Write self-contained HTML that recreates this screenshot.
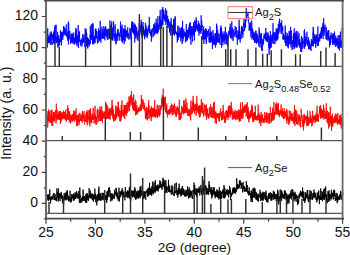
<!DOCTYPE html>
<html><head><meta charset="utf-8"><style>
html,body{margin:0;padding:0;background:#fff;}
body{width:350px;height:255px;overflow:hidden;font-family:"Liberation Sans",sans-serif;}
svg{display:block;}
</style></head><body>
<svg width="350" height="255" viewBox="0 0 350 255" xmlns="http://www.w3.org/2000/svg">
<path d="M46 66.45H342.6M46 140.6H342.6M46 213.45H342.6" stroke="#555" stroke-width="1.25"/>
<polyline fill="none" stroke="#0000ff" stroke-width="0.8" stroke-linejoin="miter" points="46.1,42.6 46.2,35.7 46.4,36.2 46.5,39.1 46.7,39.8 46.8,42.0 47.0,38.4 47.1,41.4 47.3,47.6 47.4,37.8 47.6,36.0 47.7,28.4 47.9,40.6 48.0,39.3 48.2,43.3 48.3,36.3 48.5,38.0 48.6,36.8 48.8,43.0 48.9,43.0 49.1,40.5 49.2,34.8 49.4,42.7 49.5,38.5 49.7,42.3 49.8,38.0 50.0,40.2 50.1,32.7 50.3,35.6 50.4,45.0 50.6,35.9 50.7,40.0 50.9,39.2 51.0,39.0 51.2,31.3 51.3,38.4 51.5,32.9 51.6,43.2 51.8,42.9 51.9,44.0 52.1,42.3 52.2,45.0 52.4,34.2 52.5,38.7 52.7,36.9 52.8,38.3 53.0,37.5 53.1,40.7 53.3,34.3 53.4,37.3 53.6,31.8 53.7,43.0 53.9,38.4 54.0,43.8 54.2,38.2 54.3,30.1 54.5,43.7 54.6,38.3 54.8,27.0 54.9,36.6 55.1,25.0 55.2,34.8 55.4,40.7 55.5,36.4 55.7,42.2 55.8,41.4 56.0,35.6 56.1,24.7 56.3,42.5 56.4,43.0 56.6,36.8 56.7,37.9 56.9,42.3 57.0,40.7 57.2,37.9 57.3,38.1 57.5,40.1 57.6,31.8 57.8,47.5 57.9,35.8 58.1,41.7 58.2,38.3 58.4,42.3 58.5,39.2 58.7,35.1 58.8,46.5 59.0,38.2 59.1,41.3 59.3,42.8 59.4,40.0 59.6,40.1 59.7,45.4 59.9,38.3 60.0,38.2 60.2,41.8 60.3,33.7 60.5,30.3 60.6,38.4 60.8,32.8 60.9,40.2 61.1,42.1 61.2,36.2 61.4,32.5 61.5,45.3 61.7,32.7 61.8,31.9 62.0,34.7 62.1,31.7 62.3,37.1 62.4,36.7 62.6,33.7 62.7,40.0 62.9,36.5 63.0,37.2 63.2,33.7 63.3,33.2 63.5,26.1 63.6,30.0 63.8,34.0 63.9,35.5 64.1,26.7 64.2,27.9 64.4,33.1 64.5,28.3 64.7,34.7 64.8,32.0 65.0,28.3 65.1,30.9 65.3,30.0 65.4,29.8 65.6,29.9 65.7,31.9 65.9,35.8 66.0,31.4 66.2,27.0 66.3,24.4 66.5,35.0 66.6,33.1 66.8,36.8 66.9,35.7 67.1,31.7 67.2,31.7 67.4,38.5 67.5,33.8 67.7,40.0 67.8,40.8 68.0,32.0 68.1,28.5 68.3,21.6 68.4,44.6 68.6,41.6 68.7,22.6 68.9,39.6 69.0,34.5 69.2,32.6 69.3,35.5 69.5,38.1 69.6,38.4 69.8,30.8 69.9,31.2 70.1,36.9 70.2,37.5 70.4,37.3 70.5,44.0 70.7,42.5 70.8,37.7 71.0,35.2 71.1,34.7 71.3,42.8 71.4,42.9 71.6,33.8 71.7,33.5 71.9,38.6 72.0,41.5 72.2,34.1 72.3,37.3 72.5,39.2 72.6,43.4 72.8,42.0 72.9,34.1 73.1,38.7 73.2,32.5 73.4,42.3 73.5,37.1 73.7,41.7 73.8,40.1 74.0,39.4 74.1,44.6 74.3,43.1 74.4,38.6 74.6,43.8 74.7,37.6 74.9,44.0 75.0,44.0 75.2,36.4 75.3,32.3 75.5,42.1 75.6,39.2 75.8,41.6 75.9,27.9 76.1,40.4 76.2,29.3 76.4,38.3 76.5,44.4 76.7,34.9 76.8,36.1 77.0,36.0 77.1,46.4 77.3,43.3 77.4,38.1 77.6,40.4 77.7,35.5 77.9,42.6 78.0,42.4 78.2,25.1 78.3,37.2 78.5,45.2 78.6,48.0 78.8,38.8 78.9,30.5 79.1,38.5 79.2,40.7 79.4,40.1 79.5,31.9 79.7,41.9 79.8,40.9 80.0,40.3 80.1,42.2 80.3,42.8 80.4,42.9 80.6,45.8 80.7,40.4 80.9,40.1 81.0,42.2 81.2,42.3 81.3,38.5 81.5,40.6 81.6,40.8 81.8,46.7 81.9,45.9 82.1,41.1 82.2,40.1 82.4,44.2 82.5,37.3 82.7,34.2 82.8,37.4 83.0,42.9 83.1,41.1 83.3,36.8 83.4,40.1 83.6,42.3 83.7,39.0 83.9,39.8 84.0,34.4 84.2,40.7 84.3,41.3 84.5,39.0 84.6,39.2 84.8,40.2 84.9,47.1 85.1,41.0 85.2,28.5 85.4,41.0 85.5,38.5 85.7,45.9 85.8,31.6 86.0,43.1 86.1,28.8 86.3,42.5 86.4,35.8 86.6,36.7 86.7,32.9 86.9,46.5 87.0,37.4 87.2,40.4 87.3,46.8 87.5,37.2 87.6,42.1 87.8,48.5 87.9,41.5 88.1,42.8 88.2,41.8 88.4,45.1 88.5,38.3 88.7,44.2 88.8,43.3 89.0,40.5 89.1,46.6 89.3,45.1 89.4,44.0 89.6,40.4 89.7,42.1 89.9,38.9 90.0,35.6 90.2,37.0 90.3,25.9 90.5,44.1 90.6,39.6 90.8,36.9 90.9,33.7 91.1,39.8 91.2,37.6 91.4,24.2 91.5,35.8 91.7,32.3 91.8,39.5 92.0,37.5 92.1,37.6 92.3,32.6 92.4,37.7 92.6,44.3 92.7,23.1 92.9,41.8 93.0,23.7 93.2,43.3 93.3,39.4 93.5,40.3 93.6,37.4 93.8,44.3 93.9,35.6 94.1,37.7 94.2,39.1 94.4,42.5 94.5,36.2 94.7,41.1 94.8,40.1 95.0,39.3 95.1,43.0 95.3,28.7 95.4,37.4 95.6,32.4 95.7,39.2 95.9,32.0 96.0,28.8 96.2,36.7 96.3,36.3 96.5,31.2 96.6,38.4 96.8,34.3 96.9,31.2 97.1,34.8 97.2,37.6 97.4,43.5 97.5,39.9 97.7,38.1 97.8,36.6 98.0,37.2 98.1,36.3 98.3,42.6 98.4,29.5 98.6,28.2 98.7,37.6 98.9,30.6 99.0,32.4 99.2,32.9 99.3,39.6 99.5,30.8 99.6,41.0 99.8,34.7 99.9,36.2 100.1,39.9 100.2,20.9 100.4,35.2 100.5,39.7 100.7,30.4 100.8,42.6 101.0,37.2 101.1,35.7 101.3,34.7 101.4,35.6 101.6,36.2 101.7,35.8 101.9,26.7 102.0,38.9 102.2,32.5 102.3,38.4 102.5,35.7 102.6,33.0 102.8,28.9 102.9,37.1 103.1,39.0 103.2,34.1 103.4,34.4 103.5,33.4 103.7,37.7 103.8,26.1 104.0,38.3 104.1,34.6 104.3,30.5 104.4,28.4 104.6,34.8 104.7,35.6 104.9,40.3 105.0,31.7 105.2,34.9 105.3,27.7 105.5,26.6 105.6,31.3 105.8,26.8 105.9,36.5 106.1,33.3 106.2,35.3 106.4,32.7 106.5,30.7 106.7,31.9 106.8,29.7 107.0,37.4 107.1,29.2 107.3,39.1 107.4,37.8 107.6,29.8 107.7,38.5 107.9,40.0 108.0,36.2 108.2,33.3 108.3,30.7 108.5,28.8 108.6,29.5 108.8,34.5 108.9,38.2 109.1,37.5 109.2,28.6 109.4,39.0 109.5,38.2 109.7,35.8 109.8,36.4 110.0,20.4 110.1,35.9 110.3,33.9 110.4,32.2 110.6,42.0 110.7,37.4 110.9,39.7 111.0,31.6 111.2,38.0 111.3,24.0 111.5,35.1 111.6,28.5 111.8,21.4 111.9,32.1 112.1,40.1 112.2,33.5 112.4,40.0 112.5,27.8 112.7,32.1 112.8,40.6 113.0,35.8 113.1,34.1 113.3,35.9 113.4,32.4 113.6,21.4 113.7,32.7 113.9,26.1 114.0,36.2 114.2,38.4 114.3,37.2 114.5,35.7 114.6,33.4 114.8,34.2 114.9,41.0 115.1,37.2 115.2,24.2 115.4,30.2 115.5,34.9 115.7,41.5 115.8,43.2 116.0,44.3 116.1,33.2 116.3,38.8 116.4,43.0 116.6,34.8 116.7,39.5 116.9,35.2 117.0,35.7 117.2,37.0 117.3,32.9 117.5,29.3 117.6,31.7 117.8,40.9 117.9,29.0 118.1,30.1 118.2,32.5 118.4,35.7 118.5,36.3 118.7,31.8 118.8,33.3 119.0,33.3 119.1,34.9 119.3,35.7 119.4,34.4 119.6,33.4 119.7,40.5 119.9,36.4 120.0,36.9 120.2,36.9 120.3,32.6 120.5,21.6 120.6,33.1 120.8,33.0 120.9,29.6 121.1,36.8 121.2,36.3 121.4,26.6 121.5,41.3 121.7,39.1 121.8,33.4 122.0,41.1 122.1,24.6 122.3,33.3 122.4,42.7 122.6,39.9 122.7,36.2 122.9,36.9 123.0,39.1 123.2,33.3 123.3,28.6 123.5,39.8 123.6,29.6 123.8,30.6 123.9,37.1 124.1,44.1 124.2,38.1 124.4,39.6 124.5,28.9 124.7,36.4 124.8,40.6 125.0,25.2 125.1,41.6 125.3,37.8 125.4,31.9 125.6,36.7 125.7,29.4 125.9,34.8 126.0,35.3 126.2,34.5 126.3,30.9 126.5,36.5 126.6,30.5 126.8,35.2 126.9,33.3 127.1,33.7 127.2,38.3 127.4,33.1 127.5,32.4 127.7,27.3 127.8,34.7 128.0,36.4 128.1,32.7 128.3,33.7 128.4,35.9 128.6,34.6 128.7,38.9 128.9,39.6 129.0,36.9 129.2,38.3 129.3,37.0 129.5,36.0 129.6,34.8 129.8,30.6 129.9,27.9 130.1,33.3 130.2,36.1 130.4,34.0 130.5,32.5 130.7,37.4 130.8,29.8 131.0,32.4 131.1,39.4 131.3,28.2 131.4,31.1 131.6,21.7 131.7,28.4 131.9,29.6 132.0,30.1 132.2,26.1 132.3,24.8 132.5,32.5 132.6,21.5 132.8,29.0 132.9,32.0 133.1,25.4 133.2,32.4 133.4,29.1 133.5,32.2 133.7,29.0 133.8,34.6 134.0,22.7 134.1,32.6 134.3,24.6 134.4,29.5 134.6,33.0 134.7,42.6 134.9,36.8 135.0,30.0 135.2,32.6 135.3,34.1 135.5,24.6 135.6,27.0 135.8,38.4 135.9,33.8 136.1,28.6 136.2,36.4 136.4,30.9 136.5,33.7 136.7,26.7 136.8,32.0 137.0,35.7 137.1,37.4 137.3,39.6 137.4,36.1 137.6,36.1 137.7,31.4 137.9,34.8 138.0,40.8 138.2,33.2 138.3,33.9 138.5,35.9 138.6,30.2 138.8,29.5 138.9,33.5 139.1,33.8 139.2,23.1 139.4,27.5 139.5,35.9 139.7,34.2 139.8,29.2 140.0,28.5 140.1,32.4 140.3,29.0 140.4,25.2 140.6,28.0 140.7,27.8 140.9,30.9 141.0,26.4 141.2,19.8 141.3,34.9 141.5,22.1 141.6,30.1 141.8,37.5 141.9,32.0 142.1,29.4 142.2,25.4 142.4,31.9 142.5,26.7 142.7,30.2 142.8,28.7 143.0,22.0 143.1,31.9 143.3,32.1 143.4,26.6 143.6,34.7 143.7,30.3 143.9,30.7 144.0,33.2 144.2,36.6 144.3,34.3 144.5,30.9 144.6,39.3 144.8,30.7 144.9,34.2 145.1,29.1 145.2,32.9 145.4,22.8 145.5,36.5 145.7,32.0 145.8,35.4 146.0,25.3 146.1,35.3 146.3,35.5 146.4,33.3 146.6,33.2 146.7,29.2 146.9,27.5 147.0,38.1 147.2,35.3 147.3,29.5 147.5,36.6 147.6,30.4 147.8,34.9 147.9,29.6 148.1,29.7 148.2,31.4 148.4,27.1 148.5,29.3 148.7,29.7 148.8,28.6 149.0,25.1 149.1,27.4 149.3,16.8 149.4,33.1 149.6,25.2 149.7,31.2 149.9,29.1 150.0,30.3 150.2,32.3 150.3,33.1 150.5,32.0 150.6,33.3 150.8,35.8 150.9,32.4 151.1,34.4 151.2,30.6 151.4,41.6 151.5,29.6 151.7,33.0 151.8,38.4 152.0,32.0 152.1,31.7 152.3,29.1 152.4,29.5 152.6,28.3 152.7,32.0 152.9,31.7 153.0,34.5 153.2,36.4 153.3,36.8 153.5,25.7 153.6,30.4 153.8,29.8 153.9,24.1 154.1,29.1 154.2,33.6 154.4,30.2 154.5,26.1 154.7,35.3 154.8,22.7 155.0,31.1 155.1,25.1 155.3,27.9 155.4,27.2 155.6,33.3 155.7,29.6 155.9,33.2 156.0,30.2 156.2,18.8 156.3,32.2 156.5,28.6 156.6,27.4 156.8,29.9 156.9,22.8 157.1,33.9 157.2,26.6 157.4,33.1 157.5,25.3 157.7,32.0 157.8,16.3 158.0,21.1 158.1,28.4 158.3,32.4 158.4,29.8 158.6,24.5 158.7,25.0 158.9,25.3 159.0,30.0 159.2,26.7 159.3,20.2 159.5,20.4 159.6,15.9 159.8,27.3 159.9,22.5 160.1,21.2 160.2,10.0 160.4,29.5 160.5,23.1 160.7,29.7 160.8,20.1 161.0,26.7 161.1,19.7 161.3,19.5 161.4,28.4 161.6,26.1 161.7,22.5 161.9,26.3 162.0,9.0 162.2,21.6 162.3,24.2 162.5,20.6 162.6,12.2 162.8,7.0 162.9,25.3 163.1,20.1 163.2,18.1 163.4,15.9 163.5,9.7 163.7,19.2 163.8,10.2 164.0,19.0 164.1,14.1 164.3,17.0 164.4,15.2 164.6,18.6 164.7,17.9 164.9,19.1 165.0,21.4 165.2,16.6 165.3,21.7 165.5,14.2 165.6,8.3 165.8,15.1 165.9,25.0 166.1,20.3 166.2,19.0 166.4,15.2 166.5,20.9 166.7,10.5 166.8,14.4 167.0,22.6 167.1,18.7 167.3,20.6 167.4,27.1 167.6,18.7 167.7,15.8 167.9,24.0 168.0,21.8 168.2,27.6 168.3,22.5 168.5,19.1 168.6,24.4 168.8,24.5 168.9,20.8 169.1,24.5 169.2,27.9 169.4,30.4 169.5,32.4 169.7,23.6 169.8,24.2 170.0,28.5 170.1,29.5 170.3,21.7 170.4,35.4 170.6,28.0 170.7,25.7 170.9,26.8 171.0,27.3 171.2,17.9 171.3,26.6 171.5,24.0 171.6,30.0 171.8,31.4 171.9,29.7 172.1,32.8 172.2,35.6 172.4,24.8 172.5,35.7 172.7,29.7 172.8,25.7 173.0,30.7 173.1,32.8 173.3,34.3 173.4,31.3 173.6,19.3 173.7,34.3 173.9,19.3 174.0,34.2 174.2,26.5 174.3,26.4 174.5,25.2 174.6,35.5 174.8,17.6 174.9,30.0 175.1,26.0 175.2,16.2 175.4,33.3 175.5,32.6 175.7,30.5 175.8,31.8 176.0,33.8 176.1,31.9 176.3,33.8 176.4,33.4 176.6,35.2 176.7,34.5 176.9,32.8 177.0,34.5 177.2,39.0 177.3,42.5 177.5,31.6 177.6,37.9 177.8,25.4 177.9,29.2 178.1,37.5 178.2,40.1 178.4,33.0 178.5,37.1 178.7,35.5 178.8,36.8 179.0,26.8 179.1,37.2 179.3,34.2 179.4,32.3 179.6,34.5 179.7,34.7 179.9,32.4 180.0,33.1 180.2,28.1 180.3,37.5 180.5,36.5 180.6,29.3 180.8,41.4 180.9,37.3 181.1,37.7 181.2,35.0 181.4,36.0 181.5,26.9 181.7,38.3 181.8,30.7 182.0,29.0 182.1,44.1 182.3,36.4 182.4,34.2 182.6,20.9 182.7,36.6 182.9,41.5 183.0,34.2 183.2,31.1 183.3,32.2 183.5,38.7 183.6,33.7 183.8,28.8 183.9,34.8 184.1,33.9 184.2,36.5 184.4,31.6 184.5,35.1 184.7,33.9 184.8,33.1 185.0,36.6 185.1,32.9 185.3,32.2 185.4,42.2 185.6,33.0 185.7,38.6 185.9,33.8 186.0,38.3 186.2,31.0 186.3,24.0 186.5,35.7 186.6,41.2 186.8,33.0 186.9,30.0 187.1,35.6 187.2,30.0 187.4,38.9 187.5,40.2 187.7,34.3 187.8,38.6 188.0,29.4 188.1,37.1 188.3,36.4 188.4,29.5 188.6,31.5 188.7,36.9 188.9,27.4 189.0,35.2 189.2,29.8 189.3,24.4 189.5,33.5 189.6,31.8 189.8,34.2 189.9,22.8 190.1,39.2 190.2,22.4 190.4,22.2 190.5,34.1 190.7,35.6 190.8,36.8 191.0,44.7 191.1,31.9 191.3,34.1 191.4,26.2 191.6,33.6 191.7,36.5 191.9,31.1 192.0,31.2 192.2,29.0 192.3,37.8 192.5,38.2 192.6,41.7 192.8,26.1 192.9,31.5 193.1,34.2 193.2,35.0 193.4,30.5 193.5,27.9 193.7,22.2 193.8,35.4 194.0,25.6 194.1,34.8 194.3,29.7 194.4,40.5 194.6,29.8 194.7,20.4 194.9,27.0 195.0,30.1 195.2,29.0 195.3,21.4 195.5,21.4 195.6,31.9 195.8,28.3 195.9,26.5 196.1,22.1 196.2,17.3 196.4,29.0 196.5,23.5 196.7,20.1 196.8,27.9 197.0,27.8 197.1,26.3 197.3,30.9 197.4,28.6 197.6,26.1 197.7,24.6 197.9,30.1 198.0,24.9 198.2,31.6 198.3,27.2 198.5,20.9 198.6,26.7 198.8,28.1 198.9,35.7 199.1,24.9 199.2,28.7 199.4,23.4 199.5,32.9 199.7,31.9 199.8,25.8 200.0,27.9 200.1,29.2 200.3,29.2 200.4,32.3 200.6,27.1 200.7,25.7 200.9,27.7 201.0,34.0 201.2,15.3 201.3,30.5 201.5,30.6 201.6,26.2 201.8,20.6 201.9,27.2 202.1,26.6 202.2,24.9 202.4,30.9 202.5,32.6 202.7,39.6 202.8,32.8 203.0,34.5 203.1,34.8 203.3,38.1 203.4,39.1 203.6,26.5 203.7,34.8 203.9,43.9 204.0,29.4 204.2,33.8 204.3,39.7 204.5,32.0 204.6,35.8 204.8,30.4 204.9,37.4 205.1,36.6 205.2,37.1 205.4,38.4 205.5,30.5 205.7,28.3 205.8,39.5 206.0,36.4 206.1,39.9 206.3,43.9 206.4,29.0 206.6,41.9 206.7,32.0 206.9,34.3 207.0,34.5 207.2,37.3 207.3,35.5 207.5,31.0 207.6,33.4 207.8,34.4 207.9,33.4 208.1,35.1 208.2,35.4 208.4,29.1 208.5,33.4 208.7,34.8 208.8,40.1 209.0,40.4 209.1,42.2 209.3,37.8 209.4,33.2 209.6,34.5 209.7,42.8 209.9,39.6 210.0,26.4 210.2,38.0 210.3,40.3 210.5,42.7 210.6,40.2 210.8,31.2 210.9,35.9 211.1,41.0 211.2,32.4 211.4,37.6 211.5,42.1 211.7,32.3 211.8,40.9 212.0,39.2 212.1,37.8 212.3,43.5 212.4,49.0 212.6,37.4 212.7,36.1 212.9,40.8 213.0,30.2 213.2,41.1 213.3,44.7 213.5,40.7 213.6,43.7 213.8,35.1 213.9,44.4 214.1,41.1 214.2,40.3 214.4,39.5 214.5,41.3 214.7,38.5 214.8,44.7 215.0,33.3 215.1,40.6 215.3,40.4 215.4,47.5 215.6,36.6 215.7,33.2 215.9,39.7 216.0,38.8 216.2,33.5 216.3,45.0 216.5,43.5 216.6,23.7 216.8,40.1 216.9,25.7 217.1,42.8 217.2,38.5 217.4,34.1 217.5,36.6 217.7,30.3 217.8,41.9 218.0,33.1 218.1,40.7 218.3,37.8 218.4,37.5 218.6,40.0 218.7,41.1 218.9,42.9 219.0,42.2 219.2,33.8 219.3,41.7 219.5,40.3 219.6,38.6 219.8,41.1 219.9,42.0 220.1,44.8 220.2,36.2 220.4,28.0 220.5,37.5 220.7,33.1 220.8,25.7 221.0,25.5 221.1,39.4 221.3,33.6 221.4,27.6 221.6,47.5 221.7,37.1 221.9,39.8 222.0,31.4 222.2,36.3 222.3,40.2 222.5,36.6 222.6,34.4 222.8,45.2 222.9,35.9 223.1,38.9 223.2,40.8 223.4,42.1 223.5,41.4 223.7,33.7 223.8,39.3 224.0,33.5 224.1,31.5 224.3,38.4 224.4,40.7 224.6,35.0 224.7,35.3 224.9,44.3 225.0,35.2 225.2,33.5 225.3,26.8 225.5,27.0 225.6,38.0 225.8,39.5 225.9,36.0 226.1,34.5 226.2,43.5 226.4,34.3 226.5,40.7 226.7,32.5 226.8,44.4 227.0,41.3 227.1,34.5 227.3,41.5 227.4,36.1 227.6,46.0 227.7,42.3 227.9,35.9 228.0,38.9 228.2,39.5 228.3,36.2 228.5,34.0 228.6,31.0 228.8,34.7 228.9,36.6 229.1,35.9 229.2,33.9 229.4,33.5 229.5,32.6 229.7,30.6 229.8,34.2 230.0,26.9 230.1,34.6 230.3,23.6 230.4,33.6 230.6,36.8 230.7,38.0 230.9,28.8 231.0,30.5 231.2,38.4 231.3,35.5 231.5,38.0 231.6,36.6 231.8,21.4 231.9,34.2 232.1,39.4 232.2,35.6 232.4,27.7 232.5,32.8 232.7,34.3 232.8,37.3 233.0,38.2 233.1,41.0 233.3,36.0 233.4,33.4 233.6,30.6 233.7,29.4 233.9,35.5 234.0,37.1 234.2,34.2 234.3,33.5 234.5,32.6 234.6,34.6 234.8,35.8 234.9,35.5 235.1,26.1 235.2,29.9 235.4,32.1 235.5,32.7 235.7,33.6 235.8,32.8 236.0,31.5 236.1,37.5 236.3,27.0 236.4,28.7 236.6,32.2 236.7,36.8 236.9,34.7 237.0,37.1 237.2,35.7 237.3,44.7 237.5,37.6 237.6,34.3 237.8,34.2 237.9,30.4 238.1,34.1 238.2,39.2 238.4,38.2 238.5,36.2 238.7,31.8 238.8,39.5 239.0,34.9 239.1,19.7 239.3,35.6 239.4,27.2 239.6,26.1 239.7,39.0 239.9,31.5 240.0,32.5 240.2,42.5 240.3,34.3 240.5,34.9 240.6,35.7 240.8,34.9 240.9,35.2 241.1,35.0 241.2,39.1 241.4,27.9 241.5,27.6 241.7,33.5 241.8,25.8 242.0,26.6 242.1,33.6 242.3,30.2 242.4,27.1 242.6,34.9 242.7,29.3 242.9,37.6 243.0,29.3 243.2,30.2 243.3,31.6 243.5,23.1 243.6,23.1 243.8,26.1 243.9,21.1 244.1,19.2 244.2,23.6 244.4,24.9 244.5,31.1 244.7,30.1 244.8,24.2 245.0,27.4 245.1,22.1 245.3,27.8 245.4,18.7 245.6,27.2 245.7,20.3 245.9,19.4 246.0,21.2 246.2,8.4 246.3,8.0 246.5,18.1 246.6,15.5 246.8,14.9 246.9,16.0 247.1,15.8 247.2,16.2 247.4,14.7 247.5,15.3 247.7,14.5 247.8,15.5 248.0,11.8 248.1,19.6 248.3,17.0 248.4,21.7 248.6,18.0 248.7,23.8 248.9,23.9 249.0,24.8 249.2,30.8 249.3,26.4 249.5,28.7 249.6,24.2 249.8,22.6 249.9,30.1 250.1,30.5 250.2,30.0 250.4,26.4 250.5,22.5 250.7,31.2 250.8,35.4 251.0,37.4 251.1,26.1 251.3,31.2 251.4,32.4 251.6,30.6 251.7,20.5 251.9,25.4 252.0,39.5 252.2,31.2 252.3,29.1 252.5,33.0 252.6,28.6 252.8,37.7 252.9,33.4 253.1,31.4 253.2,33.6 253.4,32.9 253.5,39.9 253.7,40.2 253.8,33.6 254.0,38.8 254.1,34.9 254.3,40.7 254.4,40.6 254.6,42.8 254.7,33.7 254.9,40.3 255.0,31.6 255.2,39.5 255.3,41.8 255.5,42.3 255.6,42.8 255.8,33.9 255.9,30.5 256.1,31.2 256.2,40.9 256.4,39.5 256.5,43.7 256.7,40.6 256.8,33.2 257.0,42.4 257.1,35.4 257.3,34.5 257.4,41.5 257.6,38.5 257.7,42.6 257.9,35.9 258.0,38.6 258.2,39.4 258.3,39.1 258.5,43.2 258.6,38.3 258.8,42.8 258.9,46.4 259.1,27.5 259.2,34.9 259.4,37.7 259.5,30.4 259.7,35.9 259.8,32.8 260.0,47.6 260.1,39.2 260.3,34.5 260.4,34.3 260.6,43.9 260.7,35.6 260.9,40.5 261.0,39.0 261.2,41.1 261.3,39.7 261.5,33.0 261.6,50.5 261.8,44.0 261.9,38.4 262.1,39.7 262.2,42.1 262.4,51.2 262.5,44.8 262.7,40.1 262.8,45.5 263.0,44.9 263.1,42.1 263.3,39.2 263.4,39.0 263.6,43.6 263.7,37.5 263.9,36.1 264.0,38.2 264.2,33.4 264.3,37.0 264.5,38.5 264.6,38.8 264.8,34.8 264.9,37.4 265.1,37.2 265.2,36.4 265.4,40.6 265.5,39.7 265.7,32.9 265.8,28.0 266.0,39.3 266.1,32.3 266.3,39.8 266.4,38.4 266.6,37.5 266.7,38.4 266.9,42.0 267.0,37.6 267.2,33.4 267.3,34.2 267.5,42.1 267.6,36.0 267.8,40.1 267.9,32.3 268.1,39.9 268.2,34.7 268.4,40.4 268.5,40.0 268.7,47.6 268.8,45.8 269.0,43.3 269.1,55.0 269.3,35.9 269.4,37.8 269.6,49.7 269.7,43.0 269.9,38.4 270.0,41.9 270.2,44.6 270.3,31.0 270.5,48.4 270.6,38.7 270.8,46.3 270.9,43.4 271.1,34.9 271.2,47.6 271.4,39.5 271.5,38.8 271.7,40.5 271.8,39.3 272.0,37.6 272.1,40.7 272.3,34.6 272.4,40.9 272.6,43.4 272.7,36.1 272.9,30.8 273.0,23.2 273.2,37.7 273.3,38.9 273.5,32.2 273.6,32.9 273.8,43.9 273.9,39.4 274.1,39.5 274.2,38.7 274.4,39.9 274.5,37.4 274.7,32.2 274.8,44.1 275.0,42.7 275.1,38.4 275.3,36.0 275.4,40.4 275.6,35.7 275.7,33.2 275.9,32.4 276.0,37.1 276.2,28.3 276.3,41.2 276.5,33.9 276.6,35.0 276.8,30.1 276.9,39.6 277.1,31.4 277.2,40.3 277.4,28.6 277.5,37.7 277.7,28.9 277.8,33.6 278.0,39.0 278.1,35.5 278.3,24.1 278.4,27.5 278.6,29.9 278.7,33.9 278.9,25.0 279.0,29.3 279.2,21.0 279.3,28.9 279.5,25.7 279.6,18.6 279.8,25.1 279.9,32.3 280.1,29.0 280.2,26.7 280.4,23.1 280.5,26.5 280.7,23.4 280.8,27.7 281.0,29.5 281.1,33.6 281.3,34.0 281.4,33.2 281.6,31.8 281.7,20.5 281.9,33.8 282.0,26.9 282.2,25.7 282.3,30.5 282.5,28.0 282.6,30.5 282.8,26.8 282.9,39.4 283.1,35.2 283.2,39.5 283.4,37.8 283.5,33.8 283.7,38.1 283.8,34.1 284.0,38.8 284.1,39.6 284.3,39.0 284.4,36.0 284.6,36.0 284.7,37.9 284.9,38.9 285.0,42.8 285.2,25.3 285.3,36.0 285.5,37.8 285.6,46.0 285.8,32.8 285.9,32.1 286.1,43.1 286.2,36.3 286.4,42.7 286.5,36.5 286.7,45.5 286.8,37.2 287.0,40.1 287.1,36.3 287.3,41.3 287.4,33.3 287.6,41.8 287.7,47.2 287.9,36.6 288.0,40.9 288.2,41.8 288.3,48.3 288.5,35.9 288.6,43.8 288.8,43.8 288.9,44.3 289.1,30.8 289.2,44.2 289.4,38.5 289.5,32.8 289.7,39.9 289.8,36.0 290.0,31.5 290.1,38.9 290.3,43.9 290.4,42.1 290.6,26.9 290.7,34.4 290.9,47.2 291.0,42.0 291.2,43.4 291.3,42.5 291.5,30.4 291.6,39.4 291.8,35.5 291.9,44.5 292.1,50.1 292.2,41.7 292.4,40.0 292.5,43.1 292.7,43.0 292.8,40.1 293.0,49.1 293.1,42.5 293.3,44.2 293.4,42.3 293.6,34.3 293.7,46.8 293.9,32.9 294.0,37.2 294.2,44.3 294.3,28.4 294.5,48.7 294.6,37.7 294.8,43.8 294.9,40.1 295.1,42.3 295.2,37.4 295.4,43.1 295.5,32.7 295.7,46.3 295.8,43.9 296.0,33.3 296.1,47.7 296.3,30.8 296.4,40.4 296.6,45.0 296.7,47.2 296.9,34.5 297.0,43.1 297.2,47.3 297.3,42.0 297.5,39.3 297.6,36.8 297.8,37.5 297.9,31.4 298.1,37.4 298.2,36.7 298.4,45.3 298.5,44.9 298.7,39.1 298.8,39.1 299.0,33.4 299.1,37.6 299.3,46.3 299.4,47.6 299.6,46.2 299.7,39.1 299.9,44.2 300.0,43.5 300.2,46.5 300.3,42.5 300.5,51.7 300.6,42.9 300.8,44.1 300.9,43.2 301.1,45.5 301.2,42.6 301.4,36.0 301.5,45.8 301.7,52.0 301.8,43.5 302.0,44.2 302.1,41.5 302.3,46.7 302.4,48.9 302.6,39.0 302.7,37.7 302.9,42.6 303.0,42.9 303.2,43.0 303.3,42.0 303.5,43.1 303.6,40.8 303.8,43.9 303.9,41.1 304.1,48.1 304.2,30.6 304.4,48.9 304.5,29.3 304.7,44.2 304.8,33.0 305.0,41.0 305.1,44.1 305.3,45.7 305.4,42.9 305.6,46.6 305.7,36.6 305.9,40.0 306.0,40.9 306.2,38.5 306.3,41.1 306.5,40.1 306.6,43.5 306.8,41.5 306.9,31.7 307.1,41.7 307.2,44.6 307.4,43.2 307.5,44.0 307.7,45.8 307.8,40.1 308.0,43.0 308.1,44.9 308.3,37.1 308.4,48.0 308.6,49.1 308.7,39.3 308.9,44.8 309.0,41.7 309.2,40.8 309.3,49.2 309.5,45.7 309.6,45.3 309.8,42.7 309.9,44.9 310.1,46.5 310.2,49.7 310.4,45.5 310.5,48.3 310.7,45.2 310.8,45.1 311.0,50.8 311.1,45.6 311.3,39.3 311.4,39.1 311.6,46.0 311.7,40.9 311.9,45.5 312.0,41.3 312.2,40.6 312.3,40.9 312.5,46.1 312.6,41.9 312.8,37.3 312.9,32.8 313.1,33.9 313.2,26.8 313.4,46.4 313.5,28.0 313.7,32.6 313.8,42.7 314.0,41.9 314.1,34.0 314.3,35.8 314.4,37.0 314.6,43.2 314.7,42.3 314.9,35.6 315.0,44.0 315.2,42.6 315.3,36.7 315.5,36.4 315.6,47.0 315.8,47.9 315.9,36.6 316.1,36.7 316.2,34.2 316.4,41.1 316.5,35.6 316.7,42.8 316.8,43.5 317.0,39.5 317.1,43.0 317.3,45.2 317.4,46.1 317.6,34.9 317.7,35.3 317.9,26.4 318.0,39.5 318.2,40.6 318.3,37.3 318.5,45.9 318.6,39.0 318.8,40.9 318.9,40.9 319.1,40.1 319.2,38.0 319.4,34.9 319.5,33.9 319.7,41.5 319.8,35.3 320.0,36.3 320.1,34.9 320.3,36.6 320.4,33.2 320.6,38.6 320.7,34.4 320.9,38.6 321.0,31.3 321.2,36.6 321.3,27.9 321.5,37.7 321.6,30.8 321.8,27.1 321.9,36.2 322.1,29.6 322.2,26.7 322.4,33.4 322.5,34.2 322.7,29.6 322.8,28.7 323.0,23.1 323.1,39.0 323.3,25.9 323.4,22.7 323.6,32.2 323.7,18.3 323.9,27.8 324.0,26.3 324.2,35.5 324.3,27.6 324.5,30.5 324.6,28.4 324.8,28.0 324.9,27.1 325.1,24.7 325.2,29.3 325.4,28.3 325.5,29.4 325.7,32.1 325.8,35.1 326.0,39.3 326.1,36.0 326.3,27.1 326.4,32.0 326.6,39.6 326.7,34.6 326.9,32.9 327.0,34.9 327.2,32.9 327.3,33.5 327.5,33.4 327.6,36.9 327.8,31.5 327.9,40.7 328.1,30.2 328.2,39.8 328.4,35.6 328.5,39.2 328.7,36.7 328.8,30.1 329.0,34.3 329.1,38.5 329.3,41.2 329.4,38.0 329.6,47.3 329.7,40.3 329.9,42.0 330.0,40.1 330.2,36.2 330.3,45.0 330.5,38.7 330.6,43.4 330.8,35.3 330.9,38.7 331.1,38.2 331.2,32.6 331.4,39.1 331.5,38.0 331.7,37.3 331.8,37.8 332.0,37.6 332.1,35.2 332.3,42.6 332.4,36.6 332.6,41.6 332.7,45.0 332.9,33.3 333.0,40.8 333.2,39.0 333.3,41.6 333.5,36.8 333.6,34.3 333.8,43.5 333.9,33.4 334.1,44.8 334.2,45.2 334.4,36.3 334.5,31.5 334.7,35.8 334.8,43.0 335.0,43.0 335.1,40.2 335.3,44.8 335.4,45.2 335.6,47.0 335.7,35.7 335.9,42.4 336.0,38.1 336.2,42.9 336.3,39.3 336.5,38.1 336.6,46.1 336.8,37.9 336.9,41.4 337.1,42.3 337.2,44.1 337.4,43.9 337.5,44.7 337.7,39.2 337.8,47.4 338.0,48.2 338.1,35.3 338.3,45.7 338.4,48.8 338.6,41.1 338.7,42.0 338.9,45.9 339.0,43.0 339.2,38.6 339.3,35.0 339.5,50.6 339.6,44.0 339.8,45.9 339.9,42.6 340.1,44.3 340.2,37.4 340.4,31.6 340.5,37.0 340.7,47.7 340.8,40.1 341.0,39.9 341.1,47.7 341.3,41.8 341.4,43.3 341.6,43.9 341.7,45.6 341.9,41.0 342.0,44.8 342.2,27.7 342.3,44.3 342.5,46.3 342.6,39.0 342.8,27.1"/>
<polyline fill="none" stroke="#ff0000" stroke-width="0.8" stroke-linejoin="miter" points="46.1,114.4 46.2,120.1 46.4,115.4 46.5,119.5 46.7,120.6 46.8,114.0 47.0,114.2 47.1,115.4 47.3,118.3 47.4,120.8 47.6,117.7 47.7,127.5 47.9,113.3 48.0,111.1 48.2,120.2 48.3,114.4 48.5,114.8 48.6,109.4 48.8,121.0 48.9,117.1 49.1,122.5 49.2,122.0 49.4,112.0 49.5,121.3 49.7,118.9 49.8,110.6 50.0,114.5 50.1,118.9 50.3,118.7 50.4,121.6 50.6,119.6 50.7,122.7 50.9,114.6 51.0,117.1 51.2,123.0 51.3,109.7 51.5,118.1 51.6,110.5 51.8,125.6 51.9,110.0 52.1,117.3 52.2,120.6 52.4,117.5 52.5,119.1 52.7,119.0 52.8,126.0 53.0,118.1 53.1,114.7 53.3,120.3 53.4,119.6 53.6,112.1 53.7,117.7 53.9,112.2 54.0,121.3 54.2,114.8 54.3,112.3 54.5,121.3 54.6,115.7 54.8,116.2 54.9,117.9 55.1,118.7 55.2,112.0 55.4,110.0 55.5,116.9 55.7,117.6 55.8,120.3 56.0,123.5 56.1,121.1 56.3,103.6 56.4,106.2 56.6,120.5 56.7,117.2 56.9,118.4 57.0,109.7 57.2,118.1 57.3,115.1 57.5,114.6 57.6,117.8 57.8,119.4 57.9,118.4 58.1,116.3 58.2,118.3 58.4,112.8 58.5,118.2 58.7,119.9 58.8,111.4 59.0,113.9 59.1,117.2 59.3,117.7 59.4,120.0 59.6,116.0 59.7,111.0 59.9,117.0 60.0,119.2 60.2,113.6 60.3,124.0 60.5,121.0 60.6,111.0 60.8,115.8 60.9,114.2 61.1,118.0 61.2,121.6 61.4,113.3 61.5,117.4 61.7,113.0 61.8,112.4 62.0,112.6 62.1,119.5 62.3,115.5 62.4,117.4 62.6,115.3 62.7,112.3 62.9,113.3 63.0,113.9 63.2,119.1 63.3,110.7 63.5,111.3 63.6,117.4 63.8,117.0 63.9,115.7 64.1,118.8 64.2,111.7 64.4,113.9 64.5,116.8 64.7,118.7 64.8,114.5 65.0,114.4 65.1,112.2 65.3,120.1 65.4,117.4 65.6,114.4 65.7,112.0 65.9,109.3 66.0,119.4 66.2,121.2 66.3,114.5 66.5,121.5 66.6,118.0 66.8,114.6 66.9,115.4 67.1,119.7 67.2,118.1 67.4,118.3 67.5,116.6 67.7,105.2 67.8,117.3 68.0,114.0 68.1,119.4 68.3,108.0 68.4,120.0 68.6,114.7 68.7,118.5 68.9,116.3 69.0,112.5 69.2,116.4 69.3,122.2 69.5,120.2 69.6,111.0 69.8,113.6 69.9,116.1 70.1,114.7 70.2,118.7 70.4,123.5 70.5,119.2 70.7,115.6 70.8,122.8 71.0,118.0 71.1,120.6 71.3,117.6 71.4,116.4 71.6,119.8 71.7,116.0 71.9,119.1 72.0,114.3 72.2,121.0 72.3,118.3 72.5,114.2 72.6,121.6 72.8,116.3 72.9,117.8 73.1,118.6 73.2,118.0 73.4,120.3 73.5,117.6 73.7,110.6 73.8,112.4 74.0,113.6 74.1,118.9 74.3,111.5 74.4,118.5 74.6,115.9 74.7,121.9 74.9,116.9 75.0,111.3 75.2,117.8 75.3,119.8 75.5,116.9 75.6,117.8 75.8,119.9 75.9,118.1 76.1,108.6 76.2,115.0 76.4,118.1 76.5,119.2 76.7,126.2 76.8,115.1 77.0,121.5 77.1,116.4 77.3,124.5 77.4,120.3 77.6,125.8 77.7,117.8 77.9,115.5 78.0,122.9 78.2,119.8 78.3,114.0 78.5,121.3 78.6,121.1 78.8,118.6 78.9,123.0 79.1,125.1 79.2,119.6 79.4,122.0 79.5,113.8 79.7,112.9 79.8,114.0 80.0,117.1 80.1,117.5 80.3,117.1 80.4,119.1 80.6,120.9 80.7,116.8 80.9,113.9 81.0,116.9 81.2,116.0 81.3,118.4 81.5,120.4 81.6,115.8 81.8,121.0 81.9,117.3 82.1,122.7 82.2,113.1 82.4,110.9 82.5,111.8 82.7,118.0 82.8,113.0 83.0,121.6 83.1,117.4 83.3,116.4 83.4,118.2 83.6,114.3 83.7,115.3 83.9,115.0 84.0,111.2 84.2,118.5 84.3,115.6 84.5,118.4 84.6,124.4 84.8,118.3 84.9,119.4 85.1,121.5 85.2,120.8 85.4,118.8 85.5,121.4 85.7,120.4 85.8,115.4 86.0,114.2 86.1,117.9 86.3,111.7 86.4,118.0 86.6,116.5 86.7,119.8 86.9,122.1 87.0,110.1 87.2,125.3 87.3,112.2 87.5,122.7 87.6,118.5 87.8,121.6 87.9,115.8 88.1,118.6 88.2,119.5 88.4,119.5 88.5,118.1 88.7,116.3 88.8,110.4 89.0,120.8 89.1,122.1 89.3,123.6 89.4,123.1 89.6,109.6 89.7,123.6 89.9,126.3 90.0,124.8 90.2,111.7 90.3,121.5 90.5,112.7 90.6,108.4 90.8,119.4 90.9,122.6 91.1,116.6 91.2,117.8 91.4,117.1 91.5,119.5 91.7,123.4 91.8,120.8 92.0,114.6 92.1,120.1 92.3,117.6 92.4,113.7 92.6,114.4 92.7,119.5 92.9,117.1 93.0,114.1 93.2,107.8 93.3,115.2 93.5,116.5 93.6,119.7 93.8,119.0 93.9,117.3 94.1,123.5 94.2,114.9 94.4,113.5 94.5,114.4 94.7,118.8 94.8,119.3 95.0,105.8 95.1,118.2 95.3,117.7 95.4,115.2 95.6,119.9 95.7,122.7 95.9,116.7 96.0,124.8 96.2,119.5 96.3,118.3 96.5,118.2 96.6,117.1 96.8,124.2 96.9,118.3 97.1,118.4 97.2,109.8 97.4,118.1 97.5,114.1 97.7,108.6 97.8,109.7 98.0,117.3 98.1,121.9 98.3,119.1 98.4,115.4 98.6,116.9 98.7,115.0 98.9,116.0 99.0,110.0 99.2,114.6 99.3,121.2 99.5,111.9 99.6,117.3 99.8,114.3 99.9,106.2 100.1,115.6 100.2,118.3 100.4,119.5 100.5,108.9 100.7,120.8 100.8,119.0 101.0,120.8 101.1,111.0 101.3,111.4 101.4,110.4 101.6,120.7 101.7,106.3 101.9,112.7 102.0,115.0 102.2,117.0 102.3,112.6 102.5,123.0 102.6,116.6 102.8,110.8 102.9,118.9 103.1,113.1 103.2,116.1 103.4,117.8 103.5,115.9 103.7,117.4 103.8,112.8 104.0,116.2 104.1,115.9 104.3,111.7 104.4,117.8 104.6,115.5 104.7,111.8 104.9,112.8 105.0,116.4 105.2,118.0 105.3,110.4 105.5,107.1 105.6,101.7 105.8,113.2 105.9,112.8 106.1,117.7 106.2,116.1 106.4,103.6 106.5,119.1 106.7,114.8 106.8,115.4 107.0,117.5 107.1,104.9 107.3,112.8 107.4,115.1 107.6,118.7 107.7,115.7 107.9,107.3 108.0,109.9 108.2,117.6 108.3,115.8 108.5,112.1 108.6,116.7 108.8,116.4 108.9,118.6 109.1,108.9 109.2,118.9 109.4,116.6 109.5,111.8 109.7,115.6 109.8,109.8 110.0,108.4 110.1,119.6 110.3,115.0 110.4,109.2 110.6,114.3 110.7,111.0 110.9,110.9 111.0,112.6 111.2,107.6 111.3,115.5 111.5,110.8 111.6,112.4 111.8,108.5 111.9,103.2 112.1,99.8 112.2,111.6 112.4,105.0 112.5,115.8 112.7,105.4 112.8,116.0 113.0,118.6 113.1,111.0 113.3,116.4 113.4,120.2 113.6,109.4 113.7,121.5 113.9,113.9 114.0,114.1 114.2,116.8 114.3,118.4 114.5,119.4 114.6,114.8 114.8,114.5 114.9,120.9 115.1,120.8 115.2,115.6 115.4,119.9 115.5,113.4 115.7,114.3 115.8,105.5 116.0,119.1 116.1,118.3 116.3,118.0 116.4,106.9 116.6,118.0 116.7,114.3 116.9,113.0 117.0,116.2 117.2,110.4 117.3,113.3 117.5,107.4 117.6,113.1 117.8,115.2 117.9,114.5 118.1,101.6 118.2,111.3 118.4,110.1 118.5,102.6 118.7,117.2 118.8,107.9 119.0,108.9 119.1,115.5 119.3,114.9 119.4,114.9 119.6,110.0 119.7,113.2 119.9,120.9 120.0,115.6 120.2,114.1 120.3,121.6 120.5,111.1 120.6,113.1 120.8,113.3 120.9,115.7 121.1,120.4 121.2,104.9 121.4,116.9 121.5,109.0 121.7,111.2 121.8,112.1 122.0,100.4 122.1,111.4 122.3,113.3 122.4,115.2 122.6,113.7 122.7,113.5 122.9,111.6 123.0,115.4 123.2,109.6 123.3,117.2 123.5,114.6 123.6,115.9 123.8,115.0 123.9,110.9 124.1,104.8 124.2,114.2 124.4,112.4 124.5,114.1 124.7,105.7 124.8,119.1 125.0,113.3 125.1,105.2 125.3,111.0 125.4,114.2 125.6,109.1 125.7,106.4 125.9,114.1 126.0,105.1 126.2,108.3 126.3,111.9 126.5,107.9 126.6,115.7 126.8,109.3 126.9,102.9 127.1,111.5 127.2,113.1 127.4,110.0 127.5,111.0 127.7,104.7 127.8,102.8 128.0,101.4 128.1,108.1 128.3,105.2 128.4,106.0 128.6,103.8 128.7,102.3 128.9,111.5 129.0,96.4 129.2,103.0 129.3,106.4 129.5,110.6 129.6,98.9 129.8,102.4 129.9,105.3 130.1,106.2 130.2,96.3 130.4,98.2 130.5,100.3 130.7,103.2 130.8,94.9 131.0,98.7 131.1,96.2 131.3,94.1 131.4,91.1 131.6,94.2 131.7,104.7 131.9,101.4 132.0,97.1 132.2,102.3 132.3,105.3 132.5,107.3 132.6,103.5 132.8,108.6 132.9,97.9 133.1,102.1 133.2,110.8 133.4,103.0 133.5,101.8 133.7,94.3 133.8,101.5 134.0,109.6 134.1,103.2 134.3,103.7 134.4,102.0 134.6,111.2 134.7,107.2 134.9,110.3 135.0,103.9 135.2,110.7 135.3,104.2 135.5,115.2 135.6,99.7 135.8,103.8 135.9,101.4 136.1,110.9 136.2,110.3 136.4,114.4 136.5,107.7 136.7,113.5 136.8,105.0 137.0,110.1 137.1,114.4 137.3,109.1 137.4,112.7 137.6,110.2 137.7,113.1 137.9,112.0 138.0,110.1 138.2,108.7 138.3,110.3 138.5,108.0 138.6,112.0 138.8,108.4 138.9,107.1 139.1,107.9 139.2,107.3 139.4,108.6 139.5,110.7 139.7,108.6 139.8,109.4 140.0,111.4 140.1,110.2 140.3,104.5 140.4,110.0 140.6,110.2 140.7,109.2 140.9,110.9 141.0,105.7 141.2,110.3 141.3,95.1 141.5,109.4 141.6,100.4 141.8,105.9 141.9,108.6 142.1,98.8 142.2,107.0 142.4,104.2 142.5,105.7 142.7,105.8 142.8,102.3 143.0,104.4 143.1,99.9 143.3,105.9 143.4,108.6 143.6,109.4 143.7,108.2 143.9,107.0 144.0,108.3 144.2,103.0 144.3,108.4 144.5,105.3 144.6,105.2 144.8,109.5 144.9,111.1 145.1,108.3 145.2,110.7 145.4,117.8 145.5,112.8 145.7,119.1 145.8,113.8 146.0,118.1 146.1,110.0 146.3,114.4 146.4,106.8 146.6,119.3 146.7,111.6 146.9,115.5 147.0,117.1 147.2,112.8 147.3,107.7 147.5,116.3 147.6,120.3 147.8,111.8 147.9,113.1 148.1,110.1 148.2,112.1 148.4,109.2 148.5,109.4 148.7,100.2 148.8,114.6 149.0,105.5 149.1,118.9 149.3,115.0 149.4,118.1 149.6,112.0 149.7,110.8 149.9,109.8 150.0,113.0 150.2,113.2 150.3,110.9 150.5,116.2 150.6,109.7 150.8,108.1 150.9,116.8 151.1,114.3 151.2,121.1 151.4,106.4 151.5,118.0 151.7,114.7 151.8,117.2 152.0,114.1 152.1,116.4 152.3,115.0 152.4,114.6 152.6,109.1 152.7,116.1 152.9,107.7 153.0,117.2 153.2,114.5 153.3,109.9 153.5,116.1 153.6,108.1 153.8,115.5 153.9,113.2 154.1,112.8 154.2,111.6 154.4,107.4 154.5,116.8 154.7,100.1 154.8,113.0 155.0,117.2 155.1,116.4 155.3,116.2 155.4,109.8 155.6,113.6 155.7,117.4 155.9,115.0 156.0,117.0 156.2,115.4 156.3,109.1 156.5,115.5 156.6,111.8 156.8,112.1 156.9,114.0 157.1,114.9 157.2,104.7 157.4,117.9 157.5,115.6 157.7,117.4 157.8,111.0 158.0,105.4 158.1,109.6 158.3,115.3 158.4,111.5 158.6,115.2 158.7,114.7 158.9,111.9 159.0,108.8 159.2,111.8 159.3,115.5 159.5,110.9 159.6,116.5 159.8,112.1 159.9,105.0 160.1,114.8 160.2,109.4 160.4,111.0 160.5,107.7 160.7,106.1 160.8,105.6 161.0,106.9 161.1,108.5 161.3,109.5 161.4,105.3 161.6,103.8 161.7,98.6 161.9,104.9 162.0,99.9 162.2,95.2 162.3,107.2 162.5,100.6 162.6,103.9 162.8,102.4 162.9,104.7 163.1,99.5 163.2,88.7 163.4,101.2 163.5,99.0 163.7,102.0 163.8,102.7 164.0,104.9 164.1,104.6 164.3,105.6 164.4,100.7 164.6,97.3 164.7,102.9 164.9,107.7 165.0,110.0 165.2,110.2 165.3,96.7 165.5,104.4 165.6,112.3 165.8,106.2 165.9,108.5 166.1,106.8 166.2,108.1 166.4,111.8 166.5,113.6 166.7,103.5 166.8,104.6 167.0,109.1 167.1,113.7 167.3,110.3 167.4,117.5 167.6,115.5 167.7,111.1 167.9,114.0 168.0,110.9 168.2,112.8 168.3,111.1 168.5,114.1 168.6,109.6 168.8,110.7 168.9,113.1 169.1,112.0 169.2,114.8 169.4,113.7 169.5,109.1 169.7,111.6 169.8,110.0 170.0,113.7 170.1,112.0 170.3,105.8 170.4,112.8 170.6,108.5 170.7,109.6 170.9,108.8 171.0,111.5 171.2,112.4 171.3,109.0 171.5,111.1 171.6,103.6 171.8,105.3 171.9,114.2 172.1,114.1 172.2,114.9 172.4,109.8 172.5,111.4 172.7,109.9 172.8,105.4 173.0,113.1 173.1,115.2 173.3,104.9 173.4,111.8 173.6,112.3 173.7,108.6 173.9,109.7 174.0,108.4 174.2,107.8 174.3,107.9 174.5,103.6 174.6,108.8 174.8,113.4 174.9,110.0 175.1,106.2 175.2,108.3 175.4,115.2 175.5,113.1 175.7,115.1 175.8,114.0 176.0,110.9 176.1,117.4 176.3,110.1 176.4,115.1 176.6,107.7 176.7,115.7 176.9,113.5 177.0,111.9 177.2,108.3 177.3,106.1 177.5,110.3 177.6,107.6 177.8,107.4 177.9,110.0 178.1,113.8 178.2,113.2 178.4,111.2 178.5,108.0 178.7,113.9 178.8,111.5 179.0,115.2 179.1,120.2 179.3,99.6 179.4,111.4 179.6,112.2 179.7,110.4 179.9,119.6 180.0,112.6 180.2,119.6 180.3,117.3 180.5,117.9 180.6,115.6 180.8,115.0 180.9,113.3 181.1,118.6 181.2,113.7 181.4,113.8 181.5,114.8 181.7,113.5 181.8,105.9 182.0,113.5 182.1,113.6 182.3,107.4 182.4,109.3 182.6,112.1 182.7,110.2 182.9,107.9 183.0,112.8 183.2,111.2 183.3,111.6 183.5,113.7 183.6,114.3 183.8,100.6 183.9,111.8 184.1,100.4 184.2,106.7 184.4,105.4 184.5,113.3 184.7,109.5 184.8,112.6 185.0,111.6 185.1,108.7 185.3,108.9 185.4,104.5 185.6,113.1 185.7,110.9 185.9,98.5 186.0,106.0 186.2,111.6 186.3,106.2 186.5,109.6 186.6,111.5 186.8,112.4 186.9,102.5 187.1,112.6 187.2,113.4 187.4,112.8 187.5,114.6 187.7,115.6 187.8,108.3 188.0,108.6 188.1,111.6 188.3,110.9 188.4,115.9 188.6,114.8 188.7,114.0 188.9,111.1 189.0,109.5 189.2,115.5 189.3,114.1 189.5,113.3 189.6,110.5 189.8,109.2 189.9,115.7 190.1,116.6 190.2,115.1 190.4,113.4 190.5,117.9 190.7,120.4 190.8,105.4 191.0,100.5 191.1,113.0 191.3,106.4 191.4,106.3 191.6,107.6 191.7,114.4 191.9,113.7 192.0,113.1 192.2,110.7 192.3,111.4 192.5,113.1 192.6,112.8 192.8,101.9 192.9,110.2 193.1,95.9 193.2,109.3 193.4,102.1 193.5,100.6 193.7,108.1 193.8,110.9 194.0,103.6 194.1,111.2 194.3,112.2 194.4,109.6 194.6,113.8 194.7,113.6 194.9,105.3 195.0,110.4 195.2,109.8 195.3,108.1 195.5,107.7 195.6,103.9 195.8,109.9 195.9,106.3 196.1,111.6 196.2,115.8 196.4,107.4 196.5,108.4 196.7,103.9 196.8,95.9 197.0,110.4 197.1,103.3 197.3,112.5 197.4,109.0 197.6,108.5 197.7,107.7 197.9,108.7 198.0,109.3 198.2,107.4 198.3,109.1 198.5,113.0 198.6,111.0 198.8,105.7 198.9,114.4 199.1,113.3 199.2,106.1 199.4,117.4 199.5,105.3 199.7,116.2 199.8,109.8 200.0,107.3 200.1,115.8 200.3,116.5 200.4,109.7 200.6,112.0 200.7,105.6 200.9,111.8 201.0,111.6 201.2,112.1 201.3,99.2 201.5,111.7 201.6,109.7 201.8,108.3 201.9,109.4 202.1,113.8 202.2,109.2 202.4,102.8 202.5,110.4 202.7,107.0 202.8,102.6 203.0,105.3 203.1,110.6 203.3,113.2 203.4,110.1 203.6,116.5 203.7,113.3 203.9,110.3 204.0,111.4 204.2,110.7 204.3,107.8 204.5,104.6 204.6,105.0 204.8,111.5 204.9,111.9 205.1,115.0 205.2,107.6 205.4,111.2 205.5,108.6 205.7,105.7 205.8,105.0 206.0,116.1 206.1,106.6 206.3,104.4 206.4,117.5 206.6,119.7 206.7,111.5 206.9,107.7 207.0,112.7 207.2,109.1 207.3,114.0 207.5,110.2 207.6,111.9 207.8,116.5 207.9,113.6 208.1,114.4 208.2,118.4 208.4,113.9 208.5,118.4 208.7,118.4 208.8,117.7 209.0,114.2 209.1,115.0 209.3,107.2 209.4,110.1 209.6,113.9 209.7,113.5 209.9,117.3 210.0,115.5 210.2,111.5 210.3,112.0 210.5,114.5 210.6,104.4 210.8,113.5 210.9,110.4 211.1,115.4 211.2,117.0 211.4,115.9 211.5,117.6 211.7,107.1 211.8,113.8 212.0,113.6 212.1,117.5 212.3,113.3 212.4,114.7 212.6,114.3 212.7,112.1 212.9,106.7 213.0,116.3 213.2,118.4 213.3,118.1 213.5,102.7 213.6,113.4 213.8,109.7 213.9,116.1 214.1,117.8 214.2,118.3 214.4,114.4 214.5,101.8 214.7,114.2 214.8,116.8 215.0,111.7 215.1,112.8 215.3,123.2 215.4,115.2 215.6,119.5 215.7,112.7 215.9,111.4 216.0,118.2 216.2,119.4 216.3,119.4 216.5,123.9 216.6,113.1 216.8,114.7 216.9,118.1 217.1,116.7 217.2,114.5 217.4,116.8 217.5,114.0 217.7,117.3 217.8,117.4 218.0,115.8 218.1,113.0 218.3,117.7 218.4,118.8 218.6,117.6 218.7,113.1 218.9,120.9 219.0,118.5 219.2,116.4 219.3,121.7 219.5,118.4 219.6,113.1 219.8,114.2 219.9,117.3 220.1,115.8 220.2,111.1 220.4,112.5 220.5,109.6 220.7,108.5 220.8,114.0 221.0,115.5 221.1,112.4 221.3,113.1 221.4,120.5 221.6,115.2 221.7,116.5 221.9,112.5 222.0,119.8 222.2,115.1 222.3,114.0 222.5,118.0 222.6,110.8 222.8,110.7 222.9,119.6 223.1,114.1 223.2,104.9 223.4,113.1 223.5,114.2 223.7,114.8 223.8,115.7 224.0,119.1 224.1,115.0 224.3,115.5 224.4,122.9 224.6,120.8 224.7,116.6 224.9,115.1 225.0,112.5 225.2,116.4 225.3,122.7 225.5,119.2 225.6,117.3 225.8,120.3 225.9,111.4 226.1,113.7 226.2,110.1 226.4,110.1 226.5,115.8 226.7,117.9 226.8,111.4 227.0,114.4 227.1,111.3 227.3,116.8 227.4,110.8 227.6,114.5 227.7,117.1 227.9,115.7 228.0,119.7 228.2,117.0 228.3,106.6 228.5,116.6 228.6,109.6 228.8,106.3 228.9,110.4 229.1,108.0 229.2,106.8 229.4,105.0 229.5,113.2 229.7,110.4 229.8,112.6 230.0,117.6 230.1,112.1 230.3,109.8 230.4,115.4 230.6,108.7 230.7,105.8 230.9,113.4 231.0,109.9 231.2,114.3 231.3,101.8 231.5,109.1 231.6,114.2 231.8,111.0 231.9,111.5 232.1,108.6 232.2,119.0 232.4,119.5 232.5,114.9 232.7,115.1 232.8,112.4 233.0,116.6 233.1,117.6 233.3,114.0 233.4,111.1 233.6,119.2 233.7,117.3 233.9,116.8 234.0,119.2 234.2,116.3 234.3,112.4 234.5,116.6 234.6,112.3 234.8,118.5 234.9,114.0 235.1,109.8 235.2,117.7 235.4,118.6 235.5,119.9 235.7,117.1 235.8,115.0 236.0,116.6 236.1,110.7 236.3,118.7 236.4,112.8 236.6,115.2 236.7,116.1 236.9,115.5 237.0,119.6 237.2,116.5 237.3,111.1 237.5,114.1 237.6,118.7 237.8,116.8 237.9,116.5 238.1,117.4 238.2,110.4 238.4,115.7 238.5,112.9 238.7,109.5 238.8,120.3 239.0,113.3 239.1,117.4 239.3,112.6 239.4,115.7 239.6,121.9 239.7,110.1 239.9,117.7 240.0,115.3 240.2,116.1 240.3,113.2 240.5,102.6 240.6,121.0 240.8,117.4 240.9,113.8 241.1,115.2 241.2,111.4 241.4,118.2 241.5,118.5 241.7,109.4 241.8,115.6 242.0,112.6 242.1,118.0 242.3,112.0 242.4,102.1 242.6,115.0 242.7,109.4 242.9,118.8 243.0,117.1 243.2,117.0 243.3,114.4 243.5,107.1 243.6,112.0 243.8,107.9 243.9,109.3 244.1,106.2 244.2,112.6 244.4,110.2 244.5,110.2 244.7,112.8 244.8,105.6 245.0,104.5 245.1,111.0 245.3,107.1 245.4,108.3 245.6,105.8 245.7,111.9 245.9,105.2 246.0,111.5 246.2,116.7 246.3,106.5 246.5,104.4 246.6,110.9 246.8,109.6 246.9,109.2 247.1,114.5 247.2,102.2 247.4,110.6 247.5,118.8 247.7,109.5 247.8,114.9 248.0,117.8 248.1,107.0 248.3,110.1 248.4,117.6 248.6,113.2 248.7,121.8 248.9,122.4 249.0,111.5 249.2,119.4 249.3,116.2 249.5,116.5 249.6,114.7 249.8,114.3 249.9,117.7 250.1,113.3 250.2,118.3 250.4,116.8 250.5,115.5 250.7,109.9 250.8,115.3 251.0,115.0 251.1,115.7 251.3,113.6 251.4,116.7 251.6,115.2 251.7,109.0 251.9,104.7 252.0,114.9 252.2,105.8 252.3,117.2 252.5,109.9 252.6,109.7 252.8,122.1 252.9,113.1 253.1,118.6 253.2,112.4 253.4,120.1 253.5,117.1 253.7,118.4 253.8,121.9 254.0,118.4 254.1,113.9 254.3,116.8 254.4,119.9 254.6,112.0 254.7,117.2 254.9,113.1 255.0,114.9 255.2,117.1 255.3,105.8 255.5,115.5 255.6,120.1 255.8,115.5 255.9,118.4 256.1,116.0 256.2,116.4 256.4,116.3 256.5,119.1 256.7,119.0 256.8,120.4 257.0,117.7 257.1,116.3 257.3,119.8 257.4,115.3 257.6,116.9 257.7,120.4 257.9,118.0 258.0,114.9 258.2,104.7 258.3,119.0 258.5,113.6 258.6,117.9 258.8,118.2 258.9,120.2 259.1,113.4 259.2,120.5 259.4,123.3 259.5,120.1 259.7,120.0 259.8,116.1 260.0,122.8 260.1,115.1 260.3,117.0 260.4,121.0 260.6,116.9 260.7,116.5 260.9,125.9 261.0,111.9 261.2,113.8 261.3,115.0 261.5,121.8 261.6,121.6 261.8,114.4 261.9,118.8 262.1,120.5 262.2,119.0 262.4,119.5 262.5,117.9 262.7,114.4 262.8,122.9 263.0,118.6 263.1,119.0 263.3,120.4 263.4,118.4 263.6,118.8 263.7,121.9 263.9,122.7 264.0,118.0 264.2,120.4 264.3,118.9 264.5,116.8 264.6,116.5 264.8,112.1 264.9,122.7 265.1,115.9 265.2,115.7 265.4,117.6 265.5,116.1 265.7,117.9 265.8,116.6 266.0,119.8 266.1,120.7 266.3,113.0 266.4,122.6 266.6,114.3 266.7,112.2 266.9,117.7 267.0,117.0 267.2,121.5 267.3,122.6 267.5,116.5 267.6,116.4 267.8,118.0 267.9,113.0 268.1,117.9 268.2,119.5 268.4,117.4 268.5,116.2 268.7,116.0 268.8,123.7 269.0,118.1 269.1,113.3 269.3,117.2 269.4,113.2 269.6,121.5 269.7,123.7 269.9,119.4 270.0,121.7 270.2,117.8 270.3,106.9 270.5,112.2 270.6,112.4 270.8,115.0 270.9,115.4 271.1,119.3 271.2,119.5 271.4,122.7 271.5,112.7 271.7,119.8 271.8,119.2 272.0,120.8 272.1,113.7 272.3,118.0 272.4,113.4 272.6,116.5 272.7,107.7 272.9,120.7 273.0,109.9 273.2,119.3 273.3,117.3 273.5,115.9 273.6,116.9 273.8,107.3 273.9,102.1 274.1,109.5 274.2,119.5 274.4,112.5 274.5,114.8 274.7,113.4 274.8,112.3 275.0,115.5 275.1,114.4 275.3,112.8 275.4,113.6 275.6,108.1 275.7,103.7 275.9,111.6 276.0,112.8 276.2,114.4 276.3,111.8 276.5,106.3 276.6,114.1 276.8,102.4 276.9,108.7 277.1,110.9 277.2,104.1 277.4,109.3 277.5,114.5 277.7,105.8 277.8,111.4 278.0,109.1 278.1,114.0 278.3,107.5 278.4,103.2 278.6,112.4 278.7,115.4 278.9,110.8 279.0,111.6 279.2,113.9 279.3,113.1 279.5,117.1 279.6,114.0 279.8,115.3 279.9,110.2 280.1,111.2 280.2,113.6 280.4,110.7 280.5,114.2 280.7,110.3 280.8,112.2 281.0,114.0 281.1,104.4 281.3,115.7 281.4,115.9 281.6,115.4 281.7,111.7 281.9,113.8 282.0,116.6 282.2,114.2 282.3,115.5 282.5,108.4 282.6,110.4 282.8,117.8 282.9,111.4 283.1,113.3 283.2,113.2 283.4,119.1 283.5,115.6 283.7,111.8 283.8,115.2 284.0,113.2 284.1,112.5 284.3,108.3 284.4,115.3 284.6,118.6 284.7,117.2 284.9,111.1 285.0,116.1 285.2,111.7 285.3,116.2 285.5,112.8 285.6,117.1 285.8,116.2 285.9,116.0 286.1,115.9 286.2,115.1 286.4,120.5 286.5,111.5 286.7,108.8 286.8,122.3 287.0,123.7 287.1,110.3 287.3,119.6 287.4,118.2 287.6,115.5 287.7,116.7 287.9,116.8 288.0,118.2 288.2,121.0 288.3,117.1 288.5,121.9 288.6,119.0 288.8,124.8 288.9,122.9 289.1,123.4 289.2,110.3 289.4,116.0 289.5,119.7 289.7,123.2 289.8,117.6 290.0,116.5 290.1,117.6 290.3,119.1 290.4,119.6 290.6,115.4 290.7,111.1 290.9,118.7 291.0,117.9 291.2,116.9 291.3,121.0 291.5,119.0 291.6,117.1 291.8,114.0 291.9,121.0 292.1,117.0 292.2,113.1 292.4,115.9 292.5,119.6 292.7,118.5 292.8,117.2 293.0,119.2 293.1,121.9 293.3,116.9 293.4,117.5 293.6,121.4 293.7,123.3 293.9,123.9 294.0,112.3 294.2,122.3 294.3,119.2 294.5,105.0 294.6,123.1 294.8,118.7 294.9,126.1 295.1,119.1 295.2,109.8 295.4,121.5 295.5,115.5 295.7,109.7 295.8,121.3 296.0,121.1 296.1,121.4 296.3,117.2 296.4,117.9 296.6,124.1 296.7,110.6 296.9,119.4 297.0,121.0 297.2,122.7 297.3,122.8 297.5,124.3 297.6,124.7 297.8,119.7 297.9,113.8 298.1,117.3 298.2,124.5 298.4,120.0 298.5,119.5 298.7,118.6 298.8,119.7 299.0,114.7 299.1,120.7 299.3,115.5 299.4,120.5 299.6,120.2 299.7,121.2 299.9,120.4 300.0,126.1 300.2,117.1 300.3,118.9 300.5,121.2 300.6,127.2 300.8,123.8 300.9,117.3 301.1,114.9 301.2,108.9 301.4,118.0 301.5,117.6 301.7,117.2 301.8,115.2 302.0,120.8 302.1,120.9 302.3,119.6 302.4,121.7 302.6,121.5 302.7,127.0 302.9,123.8 303.0,115.5 303.2,115.8 303.3,126.5 303.5,130.5 303.6,120.2 303.8,125.6 303.9,123.4 304.1,114.1 304.2,123.8 304.4,122.6 304.5,114.1 304.7,120.7 304.8,121.5 305.0,122.2 305.1,117.8 305.3,117.6 305.4,120.1 305.6,116.1 305.7,119.5 305.9,116.6 306.0,119.2 306.2,116.3 306.3,118.0 306.5,119.6 306.6,119.4 306.8,126.0 306.9,124.0 307.1,115.2 307.2,123.9 307.4,124.7 307.5,110.6 307.7,118.6 307.8,125.9 308.0,120.8 308.1,121.8 308.3,120.4 308.4,125.5 308.6,117.0 308.7,119.3 308.9,120.4 309.0,122.9 309.2,124.2 309.3,118.5 309.5,119.0 309.6,118.7 309.8,122.2 309.9,118.0 310.1,111.2 310.2,121.0 310.4,121.2 310.5,122.6 310.7,118.9 310.8,115.4 311.0,122.7 311.1,121.6 311.3,118.0 311.4,123.1 311.6,121.7 311.7,118.8 311.9,126.4 312.0,120.3 312.2,125.0 312.3,120.7 312.5,116.2 312.6,110.8 312.8,118.9 312.9,119.0 313.1,115.9 313.2,118.4 313.4,120.5 313.5,121.1 313.7,116.1 313.8,115.6 314.0,122.7 314.1,120.6 314.3,116.0 314.4,119.3 314.6,118.6 314.7,119.9 314.9,117.4 315.0,115.2 315.2,120.4 315.3,122.8 315.5,115.5 315.6,121.1 315.8,117.3 315.9,117.6 316.1,119.2 316.2,113.0 316.4,120.2 316.5,118.3 316.7,121.5 316.8,115.1 317.0,108.6 317.1,105.6 317.3,119.9 317.4,117.3 317.6,120.4 317.7,119.8 317.9,115.0 318.0,122.1 318.2,114.0 318.3,120.1 318.5,121.2 318.6,118.4 318.8,118.0 318.9,116.7 319.1,115.3 319.2,114.3 319.4,111.0 319.5,112.6 319.7,106.2 319.8,113.7 320.0,106.7 320.1,112.5 320.3,112.6 320.4,115.9 320.6,105.1 320.7,118.1 320.9,115.1 321.0,118.9 321.2,113.3 321.3,116.5 321.5,108.6 321.6,113.8 321.8,111.1 321.9,113.1 322.1,112.6 322.2,114.4 322.4,117.7 322.5,117.4 322.7,110.0 322.8,118.1 323.0,111.4 323.1,110.1 323.3,114.2 323.4,115.3 323.6,104.7 323.7,110.7 323.9,119.7 324.0,108.2 324.2,111.8 324.3,117.5 324.5,116.1 324.6,117.4 324.8,115.0 324.9,115.1 325.1,117.1 325.2,113.7 325.4,117.8 325.5,119.0 325.7,111.7 325.8,111.4 326.0,114.2 326.1,118.5 326.3,103.3 326.4,115.9 326.6,117.4 326.7,118.8 326.9,113.9 327.0,122.2 327.2,118.0 327.3,114.0 327.5,110.8 327.6,113.7 327.8,118.6 327.9,123.7 328.1,120.2 328.2,117.3 328.4,112.7 328.5,116.1 328.7,128.6 328.8,117.6 329.0,112.1 329.1,120.3 329.3,118.8 329.4,119.0 329.6,116.8 329.7,126.5 329.9,120.0 330.0,117.5 330.2,112.5 330.3,106.7 330.5,120.3 330.6,122.8 330.8,116.3 330.9,124.6 331.1,117.6 331.2,123.1 331.4,115.8 331.5,131.0 331.7,118.6 331.8,124.7 332.0,126.9 332.1,116.9 332.3,118.1 332.4,113.6 332.6,126.4 332.7,126.5 332.9,123.1 333.0,118.7 333.2,119.1 333.3,120.1 333.5,122.1 333.6,123.5 333.8,123.7 333.9,119.5 334.1,117.2 334.2,119.8 334.4,117.9 334.5,117.9 334.7,122.7 334.8,115.6 335.0,121.5 335.1,120.2 335.3,113.6 335.4,115.4 335.6,119.2 335.7,117.5 335.9,123.0 336.0,118.6 336.2,121.7 336.3,115.3 336.5,115.3 336.6,122.0 336.8,114.3 336.9,120.3 337.1,118.5 337.2,120.7 337.4,124.8 337.5,121.8 337.7,124.2 337.8,112.9 338.0,123.7 338.1,121.2 338.3,122.5 338.4,120.1 338.6,120.8 338.7,123.9 338.9,119.1 339.0,122.5 339.2,121.5 339.3,121.8 339.5,115.4 339.6,117.4 339.8,121.4 339.9,124.7 340.1,119.9 340.2,115.8 340.4,123.1 340.5,120.7 340.7,122.9 340.8,114.3 341.0,125.2 341.1,120.6 341.3,128.5 341.4,120.3 341.6,117.4 341.7,119.7 341.9,122.3 342.0,118.6 342.2,124.5 342.3,120.2 342.5,118.2 342.6,120.6 342.8,126.1"/>
<polyline fill="none" stroke="#000000" stroke-width="0.85" stroke-linejoin="miter" points="46.1,198.0 46.2,201.5 46.4,196.0 46.5,200.3 46.7,199.3 46.8,200.1 47.0,199.2 47.1,195.3 47.3,195.6 47.4,197.2 47.6,194.6 47.7,198.4 47.9,199.1 48.0,198.7 48.2,200.6 48.3,194.3 48.5,200.6 48.6,196.4 48.8,197.7 48.9,195.9 49.1,199.3 49.2,195.9 49.4,194.8 49.5,195.6 49.7,191.2 49.8,189.3 50.0,199.6 50.1,197.2 50.3,200.3 50.4,201.9 50.6,203.4 50.7,197.9 50.9,200.4 51.0,199.6 51.2,196.6 51.3,199.3 51.5,198.1 51.6,197.5 51.8,196.5 51.9,197.7 52.1,198.8 52.2,196.8 52.4,199.1 52.5,197.6 52.7,198.9 52.8,199.5 53.0,195.3 53.1,194.5 53.3,197.4 53.4,197.7 53.6,193.4 53.7,193.0 53.9,194.1 54.0,193.2 54.2,200.1 54.3,196.1 54.5,196.0 54.6,197.7 54.8,198.8 54.9,199.9 55.1,194.1 55.2,199.0 55.4,198.6 55.5,197.7 55.7,200.4 55.8,200.4 56.0,199.8 56.1,197.9 56.3,197.3 56.4,199.4 56.6,197.4 56.7,201.3 56.9,188.3 57.0,190.5 57.2,196.5 57.3,191.8 57.5,197.4 57.6,196.0 57.8,196.7 57.9,197.3 58.1,199.5 58.2,200.1 58.4,201.4 58.5,188.6 58.7,200.9 58.8,197.7 59.0,196.1 59.1,197.1 59.3,195.9 59.4,193.0 59.6,195.4 59.7,199.4 59.9,199.5 60.0,199.7 60.2,201.1 60.3,198.6 60.5,196.6 60.6,193.9 60.8,198.0 60.9,196.9 61.1,191.9 61.2,198.1 61.4,193.5 61.5,197.8 61.7,196.1 61.8,198.9 62.0,199.0 62.1,197.7 62.3,196.9 62.4,201.9 62.6,203.3 62.7,195.3 62.9,201.6 63.0,200.2 63.2,200.0 63.3,198.8 63.5,197.8 63.6,205.4 63.8,199.1 63.9,197.5 64.1,200.4 64.2,192.9 64.4,197.8 64.5,198.8 64.7,196.3 64.8,197.4 65.0,194.9 65.1,197.4 65.3,196.9 65.4,199.4 65.6,194.9 65.7,192.6 65.9,195.4 66.0,200.5 66.2,196.6 66.3,197.4 66.5,196.6 66.6,193.9 66.8,191.5 66.9,200.0 67.1,194.7 67.2,190.1 67.4,195.1 67.5,191.1 67.7,197.4 67.8,198.7 68.0,198.4 68.1,199.5 68.3,195.7 68.4,197.0 68.6,201.1 68.7,199.9 68.9,198.7 69.0,201.6 69.2,196.6 69.3,200.3 69.5,200.4 69.6,200.1 69.8,197.9 69.9,199.6 70.1,190.8 70.2,199.1 70.4,198.9 70.5,199.7 70.7,202.6 70.8,202.3 71.0,201.4 71.1,197.7 71.3,201.9 71.4,197.1 71.6,195.3 71.7,194.2 71.9,198.2 72.0,197.0 72.2,197.4 72.3,194.5 72.5,196.7 72.6,196.3 72.8,198.4 72.9,197.4 73.1,195.8 73.2,200.3 73.4,199.3 73.5,199.6 73.7,193.4 73.8,200.9 74.0,198.7 74.1,196.7 74.3,195.0 74.4,199.7 74.6,197.2 74.7,198.8 74.9,196.6 75.0,192.5 75.2,198.9 75.3,195.3 75.5,198.1 75.6,198.8 75.8,192.4 75.9,194.9 76.1,198.4 76.2,196.8 76.4,194.9 76.5,196.0 76.7,191.2 76.8,194.3 77.0,196.6 77.1,197.6 77.3,193.5 77.4,195.2 77.6,197.2 77.7,197.7 77.9,197.8 78.0,198.8 78.2,196.8 78.3,196.9 78.5,197.2 78.6,198.4 78.8,191.0 78.9,197.1 79.1,193.9 79.2,194.0 79.4,202.9 79.5,194.6 79.7,197.7 79.8,187.5 80.0,197.4 80.1,195.3 80.3,195.3 80.4,198.9 80.6,202.8 80.7,201.0 80.9,202.9 81.0,199.3 81.2,202.1 81.3,199.5 81.5,200.2 81.6,197.6 81.8,197.8 81.9,201.9 82.1,199.7 82.2,199.9 82.4,198.0 82.5,199.0 82.7,196.0 82.8,200.6 83.0,194.3 83.1,189.6 83.3,200.9 83.4,197.2 83.6,200.0 83.7,198.7 83.9,200.5 84.0,196.2 84.2,197.9 84.3,196.0 84.5,199.3 84.6,198.0 84.8,200.9 84.9,197.1 85.1,196.9 85.2,197.0 85.4,202.7 85.5,200.0 85.7,198.5 85.8,194.3 86.0,198.5 86.1,201.2 86.3,199.3 86.4,196.1 86.6,194.4 86.7,202.9 86.9,193.0 87.0,198.3 87.2,199.3 87.3,196.2 87.5,193.9 87.6,193.8 87.8,200.2 87.9,195.3 88.1,198.2 88.2,198.9 88.4,198.2 88.5,200.9 88.7,196.4 88.8,195.5 89.0,196.4 89.1,188.1 89.3,195.6 89.4,195.9 89.6,197.8 89.7,196.2 89.9,197.5 90.0,194.2 90.2,196.4 90.3,190.6 90.5,194.0 90.6,197.3 90.8,194.6 90.9,198.6 91.1,194.5 91.2,195.7 91.4,198.0 91.5,197.8 91.7,193.4 91.8,193.7 92.0,198.5 92.1,196.4 92.3,198.8 92.4,200.2 92.6,193.7 92.7,196.7 92.9,200.2 93.0,198.8 93.2,199.5 93.3,196.7 93.5,201.7 93.6,194.8 93.8,198.5 93.9,195.8 94.1,194.3 94.2,195.6 94.4,198.9 94.5,197.0 94.7,194.6 94.8,188.6 95.0,194.6 95.1,194.8 95.3,200.0 95.4,196.6 95.6,193.7 95.7,202.2 95.9,200.9 96.0,197.6 96.2,199.4 96.3,197.0 96.5,195.7 96.6,199.0 96.8,205.3 96.9,200.7 97.1,197.7 97.2,197.7 97.4,197.9 97.5,194.3 97.7,197.2 97.8,201.3 98.0,194.1 98.1,196.7 98.3,195.4 98.4,200.3 98.6,189.6 98.7,200.0 98.9,186.6 99.0,199.1 99.2,196.6 99.3,193.8 99.5,198.7 99.6,199.5 99.8,195.2 99.9,199.8 100.1,197.8 100.2,200.7 100.4,197.5 100.5,193.3 100.7,193.1 100.8,197.6 101.0,200.9 101.1,198.0 101.3,197.1 101.4,197.1 101.6,197.0 101.7,196.6 101.9,199.5 102.0,194.0 102.2,192.7 102.3,199.7 102.5,197.1 102.6,196.6 102.8,198.1 102.9,197.8 103.1,193.9 103.2,195.1 103.4,192.9 103.5,195.2 103.7,196.4 103.8,200.3 104.0,198.0 104.1,195.8 104.3,196.7 104.4,199.2 104.6,201.9 104.7,199.2 104.9,196.6 105.0,199.7 105.2,198.6 105.3,196.6 105.5,195.3 105.6,199.7 105.8,197.8 105.9,196.6 106.1,196.0 106.2,196.2 106.4,196.9 106.5,195.4 106.7,203.0 106.8,194.2 107.0,191.8 107.1,196.2 107.3,200.2 107.4,190.7 107.6,196.1 107.7,197.6 107.9,196.8 108.0,194.3 108.2,193.5 108.3,196.1 108.5,188.0 108.6,193.0 108.8,195.2 108.9,194.1 109.1,197.0 109.2,193.6 109.4,187.0 109.5,192.4 109.7,190.4 109.8,191.1 110.0,190.5 110.1,190.4 110.3,195.3 110.4,193.4 110.6,193.6 110.7,201.4 110.9,197.3 111.0,194.5 111.2,195.1 111.3,197.9 111.5,194.0 111.6,199.1 111.8,193.3 111.9,200.7 112.1,196.8 112.2,199.4 112.4,194.8 112.5,193.9 112.7,199.2 112.8,197.9 113.0,193.8 113.1,197.5 113.3,196.6 113.4,196.7 113.6,195.6 113.7,195.5 113.9,195.6 114.0,198.6 114.2,196.8 114.3,198.6 114.5,196.7 114.6,189.8 114.8,195.4 114.9,195.6 115.1,192.4 115.2,193.3 115.4,192.5 115.5,192.8 115.7,194.3 115.8,194.0 116.0,191.0 116.1,187.9 116.3,196.4 116.4,188.3 116.6,196.4 116.7,195.0 116.9,191.7 117.0,196.1 117.2,193.0 117.3,198.7 117.5,196.4 117.6,195.2 117.8,197.7 117.9,196.8 118.1,198.0 118.2,200.7 118.4,196.8 118.5,197.9 118.7,200.1 118.8,192.1 119.0,187.7 119.1,197.8 119.3,199.3 119.4,201.5 119.6,195.0 119.7,197.5 119.9,196.6 120.0,191.4 120.2,194.3 120.3,192.3 120.5,195.3 120.6,197.1 120.8,193.4 120.9,192.6 121.1,191.7 121.2,193.6 121.4,190.4 121.5,193.8 121.7,195.1 121.8,194.0 122.0,193.8 122.1,188.2 122.3,190.9 122.4,194.5 122.6,196.7 122.7,194.2 122.9,190.7 123.0,191.5 123.2,195.9 123.3,192.2 123.5,195.3 123.6,197.3 123.8,191.9 123.9,196.6 124.1,196.2 124.2,196.1 124.4,195.4 124.5,195.4 124.7,197.9 124.8,200.3 125.0,198.0 125.1,195.9 125.3,187.2 125.4,194.7 125.6,195.2 125.7,194.3 125.9,195.9 126.0,197.1 126.2,195.6 126.3,191.8 126.5,193.6 126.6,192.9 126.8,193.8 126.9,196.3 127.1,196.8 127.2,193.4 127.4,190.4 127.5,192.9 127.7,198.1 127.8,195.3 128.0,191.9 128.1,194.6 128.3,190.8 128.4,195.7 128.6,193.8 128.7,197.3 128.9,197.6 129.0,193.3 129.2,194.1 129.3,187.6 129.5,198.6 129.6,194.7 129.8,195.3 129.9,186.6 130.1,195.5 130.2,194.1 130.4,195.7 130.5,190.1 130.7,192.0 130.8,200.7 131.0,194.6 131.1,190.1 131.3,194.4 131.4,195.9 131.6,194.6 131.7,194.6 131.9,194.5 132.0,195.0 132.2,190.7 132.3,193.6 132.5,193.7 132.6,197.4 132.8,191.1 132.9,191.9 133.1,197.1 133.2,190.5 133.4,195.6 133.5,191.5 133.7,193.7 133.8,191.8 134.0,193.4 134.1,193.7 134.3,191.8 134.4,195.4 134.6,197.3 134.7,187.1 134.9,190.5 135.0,193.1 135.2,188.9 135.3,198.9 135.5,194.7 135.6,199.3 135.8,195.2 135.9,199.6 136.1,199.1 136.2,193.7 136.4,197.0 136.5,193.7 136.7,191.3 136.8,198.0 137.0,197.5 137.1,192.6 137.3,195.6 137.4,196.6 137.6,195.3 137.7,191.5 137.9,198.6 138.0,190.4 138.2,191.1 138.3,198.4 138.5,197.5 138.6,191.2 138.8,196.3 138.9,194.6 139.1,194.3 139.2,197.7 139.4,196.7 139.5,190.0 139.7,193.8 139.8,196.6 140.0,195.6 140.1,186.8 140.3,198.2 140.4,188.6 140.6,192.1 140.7,191.6 140.9,185.8 141.0,187.2 141.2,191.2 141.3,195.7 141.5,193.4 141.6,192.2 141.8,190.8 141.9,191.0 142.1,193.5 142.2,190.7 142.4,196.1 142.5,193.0 142.7,193.0 142.8,195.5 143.0,195.5 143.1,197.0 143.3,191.0 143.4,193.8 143.6,199.1 143.7,194.7 143.9,192.7 144.0,196.4 144.2,195.6 144.3,197.0 144.5,196.1 144.6,191.8 144.8,198.2 144.9,191.1 145.1,193.5 145.2,193.1 145.4,198.3 145.5,198.6 145.7,198.9 145.8,199.8 146.0,192.9 146.1,192.1 146.3,192.1 146.4,190.8 146.6,192.8 146.7,190.8 146.9,192.5 147.0,192.1 147.2,189.4 147.3,193.4 147.5,194.9 147.6,191.2 147.8,196.8 147.9,191.8 148.1,188.0 148.2,195.6 148.4,189.6 148.5,194.1 148.7,187.7 148.8,195.4 149.0,190.6 149.1,194.7 149.3,194.1 149.4,191.6 149.6,182.9 149.7,189.8 149.9,189.5 150.0,193.4 150.2,189.5 150.3,191.1 150.5,195.0 150.6,188.2 150.8,190.3 150.9,193.0 151.1,193.8 151.2,189.1 151.4,190.0 151.5,190.2 151.7,195.9 151.8,186.4 152.0,193.2 152.1,190.6 152.3,192.4 152.4,188.7 152.6,191.6 152.7,181.5 152.9,191.9 153.0,193.6 153.2,191.6 153.3,189.6 153.5,192.4 153.6,194.2 153.8,187.0 153.9,187.6 154.1,182.3 154.2,192.3 154.4,190.1 154.5,192.2 154.7,191.7 154.8,187.9 155.0,189.8 155.1,190.5 155.3,180.2 155.4,192.5 155.6,185.3 155.7,187.4 155.9,185.7 156.0,186.7 156.2,185.6 156.3,187.8 156.5,189.2 156.6,187.3 156.8,191.0 156.9,187.6 157.1,186.1 157.2,190.3 157.4,190.2 157.5,188.0 157.7,186.5 157.8,184.8 158.0,191.5 158.1,184.6 158.3,188.6 158.4,190.0 158.6,189.6 158.7,187.8 158.9,187.3 159.0,188.1 159.2,187.0 159.3,186.1 159.5,188.1 159.6,184.2 159.8,181.3 159.9,180.3 160.1,184.7 160.2,187.9 160.4,182.9 160.5,184.8 160.7,182.0 160.8,181.4 161.0,186.6 161.1,185.4 161.3,186.3 161.4,187.6 161.6,184.1 161.7,184.6 161.9,185.0 162.0,189.8 162.2,185.7 162.3,186.8 162.5,186.9 162.6,182.7 162.8,184.7 162.9,177.8 163.1,180.4 163.2,185.0 163.4,183.4 163.5,186.1 163.7,179.2 163.8,186.6 164.0,183.4 164.1,183.5 164.3,187.7 164.4,189.2 164.6,182.1 164.7,183.6 164.9,180.3 165.0,193.2 165.2,187.8 165.3,187.1 165.5,193.0 165.6,189.7 165.8,184.8 165.9,180.4 166.1,187.1 166.2,192.2 166.4,186.2 166.5,192.0 166.7,185.9 166.8,191.6 167.0,192.9 167.1,189.8 167.3,189.7 167.4,189.6 167.6,187.3 167.7,189.6 167.9,189.2 168.0,189.2 168.2,187.7 168.3,189.2 168.5,179.8 168.6,191.8 168.8,188.3 168.9,184.9 169.1,188.4 169.2,187.3 169.4,190.3 169.5,192.0 169.7,186.3 169.8,186.6 170.0,192.5 170.1,192.1 170.3,190.3 170.4,190.9 170.6,191.0 170.7,190.1 170.9,191.8 171.0,191.3 171.2,192.9 171.3,194.9 171.5,191.0 171.6,190.0 171.8,185.1 171.9,190.4 172.1,190.5 172.2,193.4 172.4,193.6 172.5,189.4 172.7,188.2 172.8,186.5 173.0,191.1 173.1,194.4 173.3,195.1 173.4,195.4 173.6,194.9 173.7,195.4 173.9,193.5 174.0,192.5 174.2,196.0 174.3,195.2 174.5,192.3 174.6,193.3 174.8,183.5 174.9,193.1 175.1,192.4 175.2,191.0 175.4,192.3 175.5,191.1 175.7,191.2 175.8,192.9 176.0,193.4 176.1,188.7 176.3,182.6 176.4,192.2 176.6,190.2 176.7,193.2 176.9,193.9 177.0,195.2 177.2,193.1 177.3,194.3 177.5,192.1 177.6,190.8 177.8,197.6 177.9,190.3 178.1,195.1 178.2,187.9 178.4,193.0 178.5,194.2 178.7,190.9 178.8,194.5 179.0,192.5 179.1,183.6 179.3,192.6 179.4,192.2 179.6,193.5 179.7,188.7 179.9,192.1 180.0,189.3 180.2,189.9 180.3,192.2 180.5,193.4 180.6,190.6 180.8,196.3 180.9,189.9 181.1,193.9 181.2,192.5 181.4,188.5 181.5,195.7 181.7,188.2 181.8,189.8 182.0,193.2 182.1,195.0 182.3,186.2 182.4,187.9 182.6,186.5 182.7,192.1 182.9,194.0 183.0,190.6 183.2,192.3 183.3,191.7 183.5,188.7 183.6,190.8 183.8,194.9 183.9,191.7 184.1,190.6 184.2,195.1 184.4,194.2 184.5,195.8 184.7,196.5 184.8,192.9 185.0,196.0 185.1,189.7 185.3,194.6 185.4,195.4 185.6,196.0 185.7,193.7 185.9,196.4 186.0,192.7 186.2,191.7 186.3,196.3 186.5,195.2 186.6,190.7 186.8,189.8 186.9,195.5 187.1,194.6 187.2,195.7 187.4,193.9 187.5,186.4 187.7,188.9 187.8,191.6 188.0,194.2 188.1,191.9 188.3,189.6 188.4,198.5 188.6,197.3 188.7,197.6 188.9,194.7 189.0,194.7 189.2,187.3 189.3,197.6 189.5,194.8 189.6,193.0 189.8,194.9 189.9,194.7 190.1,195.2 190.2,197.6 190.4,189.9 190.5,195.4 190.7,195.4 190.8,191.0 191.0,194.2 191.1,191.5 191.3,194.0 191.4,194.6 191.6,195.7 191.7,191.1 191.9,197.6 192.0,197.5 192.2,196.8 192.3,195.9 192.5,197.2 192.6,199.0 192.8,194.7 192.9,191.2 193.1,189.9 193.2,191.5 193.4,190.4 193.5,194.7 193.7,189.9 193.8,191.6 194.0,182.6 194.1,190.8 194.3,191.5 194.4,197.1 194.6,194.8 194.7,185.0 194.9,192.6 195.0,192.3 195.2,193.1 195.3,194.0 195.5,192.8 195.6,194.7 195.8,193.0 195.9,188.8 196.1,193.7 196.2,188.4 196.4,192.7 196.5,196.5 196.7,191.6 196.8,189.7 197.0,194.8 197.1,196.2 197.3,191.1 197.4,191.6 197.6,190.9 197.7,188.6 197.9,188.3 198.0,190.5 198.2,190.8 198.3,192.4 198.5,189.5 198.6,190.4 198.8,192.7 198.9,192.3 199.1,186.6 199.2,192.3 199.4,188.6 199.5,189.2 199.7,190.0 199.8,195.4 200.0,192.6 200.1,192.6 200.3,192.6 200.4,189.2 200.6,188.4 200.7,187.0 200.9,184.9 201.0,188.5 201.2,188.0 201.3,191.5 201.5,189.9 201.6,194.3 201.8,189.4 201.9,192.9 202.1,192.2 202.2,194.6 202.4,192.9 202.5,190.2 202.7,193.5 202.8,187.7 203.0,189.1 203.1,194.8 203.3,187.5 203.4,189.7 203.6,190.7 203.7,190.3 203.9,180.1 204.0,190.9 204.2,188.0 204.3,188.2 204.5,188.8 204.6,190.3 204.8,189.3 204.9,184.9 205.1,186.3 205.2,186.7 205.4,188.2 205.5,185.4 205.7,189.7 205.8,185.8 206.0,192.0 206.1,194.0 206.3,187.2 206.4,194.9 206.6,190.3 206.7,192.7 206.9,190.4 207.0,190.4 207.2,188.2 207.3,189.4 207.5,193.6 207.6,191.7 207.8,193.6 207.9,194.4 208.1,194.3 208.2,189.5 208.4,191.0 208.5,193.6 208.7,194.6 208.8,191.4 209.0,181.2 209.1,190.5 209.3,184.5 209.4,189.5 209.6,186.2 209.7,189.7 209.9,192.0 210.0,186.9 210.2,192.0 210.3,191.6 210.5,191.0 210.6,191.5 210.8,193.7 210.9,193.4 211.1,189.4 211.2,194.8 211.4,192.4 211.5,187.4 211.7,196.1 211.8,198.5 212.0,191.9 212.1,190.6 212.3,196.6 212.4,194.8 212.6,189.9 212.7,196.0 212.9,193.8 213.0,194.4 213.2,187.4 213.3,193.3 213.5,190.7 213.6,190.2 213.8,194.0 213.9,191.3 214.1,190.7 214.2,187.1 214.4,189.5 214.5,191.7 214.7,194.9 214.8,193.4 215.0,191.8 215.1,198.3 215.3,192.4 215.4,195.9 215.6,191.5 215.7,196.6 215.9,192.5 216.0,194.2 216.2,196.1 216.3,195.8 216.5,191.8 216.6,197.0 216.8,189.4 216.9,195.3 217.1,193.3 217.2,194.3 217.4,196.5 217.5,190.5 217.7,193.8 217.8,197.6 218.0,195.3 218.1,198.0 218.3,198.1 218.4,190.9 218.6,195.0 218.7,193.7 218.9,199.4 219.0,197.1 219.2,195.3 219.3,187.3 219.5,195.3 219.6,192.3 219.8,198.5 219.9,197.8 220.1,196.9 220.2,190.6 220.4,199.7 220.5,195.7 220.7,198.5 220.8,191.1 221.0,193.3 221.1,199.0 221.3,194.3 221.4,198.5 221.6,191.9 221.7,194.2 221.9,197.7 222.0,196.0 222.2,194.7 222.3,194.1 222.5,192.9 222.6,189.5 222.8,190.9 222.9,193.1 223.1,193.1 223.2,190.2 223.4,190.2 223.5,198.1 223.7,192.0 223.8,192.0 224.0,185.0 224.1,193.7 224.3,193.8 224.4,196.0 224.6,198.3 224.7,187.6 224.9,194.5 225.0,194.8 225.2,197.3 225.3,192.0 225.5,195.9 225.6,193.0 225.8,191.8 225.9,191.5 226.1,193.1 226.2,193.3 226.4,189.7 226.5,193.8 226.7,193.6 226.8,192.5 227.0,194.9 227.1,192.8 227.3,189.3 227.4,195.3 227.6,191.9 227.7,193.9 227.9,194.0 228.0,193.1 228.2,190.3 228.3,194.3 228.5,191.9 228.6,197.5 228.8,190.8 228.9,191.8 229.1,193.4 229.2,191.3 229.4,189.5 229.5,185.9 229.7,193.9 229.8,192.8 230.0,187.4 230.1,191.1 230.3,192.8 230.4,190.1 230.6,199.9 230.7,197.4 230.9,194.3 231.0,192.9 231.2,194.2 231.3,196.2 231.5,196.4 231.6,194.5 231.8,193.1 231.9,194.5 232.1,192.2 232.2,191.6 232.4,191.2 232.5,189.0 232.7,194.3 232.8,190.1 233.0,188.2 233.1,189.3 233.3,191.7 233.4,187.4 233.6,189.5 233.7,191.0 233.9,193.1 234.0,192.3 234.2,193.2 234.3,190.0 234.5,192.8 234.6,187.6 234.8,192.2 234.9,190.5 235.1,187.7 235.2,191.6 235.4,189.6 235.5,193.6 235.7,193.6 235.8,188.7 236.0,190.2 236.1,189.4 236.3,192.0 236.4,186.7 236.6,187.0 236.7,178.3 236.9,187.5 237.0,188.6 237.2,186.0 237.3,186.3 237.5,184.0 237.6,189.3 237.8,183.9 237.9,184.8 238.1,187.3 238.2,186.7 238.4,187.4 238.5,188.2 238.7,185.0 238.8,188.6 239.0,188.0 239.1,186.2 239.3,187.2 239.4,180.7 239.6,186.1 239.7,183.9 239.9,180.7 240.0,182.4 240.2,180.4 240.3,181.9 240.5,183.4 240.6,184.9 240.8,182.4 240.9,183.4 241.1,189.0 241.2,188.6 241.4,185.5 241.5,184.5 241.7,186.6 241.8,183.9 242.0,182.8 242.1,184.9 242.3,186.1 242.4,186.3 242.6,192.2 242.7,192.4 242.9,185.9 243.0,184.6 243.2,182.1 243.3,185.9 243.5,188.9 243.6,188.9 243.8,186.3 243.9,188.9 244.1,186.5 244.2,191.7 244.4,189.4 244.5,186.6 244.7,189.1 244.8,189.6 245.0,191.3 245.1,188.6 245.3,189.0 245.4,190.5 245.6,190.9 245.7,191.3 245.9,187.9 246.0,189.1 246.2,191.5 246.3,181.0 246.5,189.2 246.6,187.6 246.8,191.6 246.9,188.2 247.1,188.8 247.2,186.8 247.4,185.0 247.5,188.2 247.7,191.1 247.8,193.7 248.0,191.1 248.1,191.7 248.3,191.1 248.4,192.9 248.6,193.9 248.7,195.4 248.9,193.0 249.0,190.8 249.2,187.3 249.3,194.6 249.5,191.9 249.6,192.8 249.8,191.5 249.9,195.2 250.1,192.9 250.2,194.4 250.4,195.1 250.5,195.9 250.7,194.6 250.8,197.9 251.0,195.2 251.1,201.9 251.3,190.3 251.4,194.4 251.6,196.6 251.7,198.4 251.9,199.5 252.0,192.7 252.2,196.1 252.3,202.1 252.5,198.4 252.6,195.4 252.8,197.7 252.9,188.4 253.1,197.0 253.2,196.8 253.4,192.3 253.5,192.1 253.7,192.9 253.8,189.1 254.0,197.6 254.1,187.6 254.3,193.6 254.4,188.6 254.6,197.4 254.7,196.2 254.9,190.6 255.0,188.6 255.2,189.5 255.3,192.2 255.5,192.5 255.6,193.8 255.8,196.2 255.9,199.2 256.1,191.9 256.2,198.7 256.4,199.9 256.5,193.3 256.7,197.3 256.8,196.2 257.0,197.6 257.1,194.2 257.3,199.6 257.4,200.9 257.6,197.4 257.7,196.4 257.9,200.7 258.0,193.7 258.2,195.1 258.3,200.2 258.5,201.7 258.6,194.4 258.8,194.8 258.9,194.7 259.1,197.7 259.2,197.2 259.4,196.2 259.5,195.9 259.7,196.1 259.8,197.2 260.0,189.8 260.1,193.7 260.3,194.6 260.4,197.9 260.6,192.0 260.7,201.1 260.9,197.1 261.0,195.5 261.2,199.4 261.3,195.9 261.5,193.9 261.6,199.8 261.8,200.4 261.9,193.3 262.1,198.4 262.2,195.0 262.4,198.7 262.5,200.5 262.7,194.2 262.8,191.7 263.0,196.8 263.1,199.4 263.3,200.6 263.4,195.7 263.6,192.7 263.7,193.9 263.9,193.3 264.0,198.8 264.2,192.2 264.3,196.5 264.5,196.8 264.6,197.3 264.8,195.6 264.9,196.1 265.1,195.5 265.2,194.7 265.4,200.0 265.5,197.6 265.7,192.3 265.8,199.9 266.0,190.7 266.1,199.8 266.3,200.2 266.4,201.7 266.6,196.2 266.7,196.8 266.9,196.4 267.0,201.4 267.2,198.6 267.3,201.9 267.5,198.1 267.6,198.3 267.8,198.4 267.9,202.6 268.1,195.6 268.2,195.5 268.4,198.3 268.5,199.0 268.7,193.3 268.8,195.8 269.0,194.5 269.1,198.5 269.3,192.8 269.4,198.0 269.6,199.0 269.7,195.8 269.9,197.4 270.0,197.5 270.2,197.8 270.3,196.4 270.5,192.5 270.6,197.9 270.8,197.5 270.9,200.6 271.1,195.2 271.2,195.5 271.4,198.4 271.5,193.0 271.7,200.7 271.8,195.8 272.0,199.7 272.1,198.3 272.3,195.4 272.4,197.5 272.6,194.3 272.7,195.7 272.9,196.2 273.0,197.0 273.2,196.2 273.3,190.8 273.5,195.0 273.6,193.4 273.8,199.8 273.9,194.5 274.1,193.5 274.2,192.5 274.4,196.2 274.5,191.8 274.7,198.7 274.8,195.7 275.0,197.1 275.1,198.7 275.3,194.1 275.4,198.6 275.6,198.9 275.7,198.3 275.9,198.1 276.0,198.9 276.2,198.6 276.3,201.2 276.5,194.1 276.6,199.9 276.8,197.9 276.9,195.1 277.1,201.3 277.2,196.9 277.4,197.9 277.5,189.8 277.7,198.0 277.8,198.7 278.0,197.8 278.1,190.8 278.3,198.5 278.4,199.7 278.6,201.0 278.7,204.5 278.9,198.3 279.0,196.5 279.2,201.6 279.3,199.9 279.5,196.9 279.6,197.2 279.8,197.8 279.9,196.8 280.1,194.3 280.2,189.5 280.4,198.4 280.5,197.5 280.7,198.7 280.8,194.2 281.0,193.7 281.1,193.7 281.3,190.2 281.4,192.7 281.6,200.8 281.7,193.1 281.9,195.6 282.0,193.8 282.2,191.5 282.3,195.2 282.5,194.6 282.6,195.1 282.8,198.1 282.9,197.1 283.1,194.2 283.2,198.5 283.4,194.9 283.5,197.4 283.7,196.6 283.8,196.2 284.0,194.7 284.1,197.8 284.3,195.7 284.4,190.9 284.6,198.6 284.7,193.9 284.9,190.2 285.0,197.3 285.2,199.5 285.3,196.6 285.5,191.6 285.6,195.4 285.8,194.2 285.9,193.3 286.1,194.8 286.2,193.7 286.4,193.0 286.5,198.9 286.7,196.1 286.8,200.2 287.0,201.2 287.1,201.0 287.3,194.6 287.4,198.6 287.6,197.6 287.7,204.1 287.9,202.6 288.0,200.0 288.2,201.9 288.3,198.9 288.5,198.2 288.6,194.6 288.8,202.0 288.9,202.5 289.1,203.4 289.2,197.6 289.4,197.4 289.5,195.0 289.7,198.4 289.8,196.5 290.0,198.7 290.1,193.0 290.3,195.9 290.4,194.6 290.6,197.5 290.7,194.4 290.9,190.5 291.0,196.3 291.2,193.3 291.3,197.9 291.5,195.5 291.6,196.2 291.8,199.5 291.9,192.2 292.1,189.1 292.2,194.9 292.4,195.5 292.5,196.0 292.7,194.6 292.8,189.6 293.0,195.7 293.1,192.5 293.3,198.0 293.4,198.2 293.6,198.3 293.7,192.8 293.9,201.1 294.0,201.2 294.2,197.5 294.3,197.5 294.5,193.4 294.6,198.2 294.8,194.8 294.9,199.6 295.1,191.8 295.2,195.4 295.4,194.0 295.5,198.7 295.7,198.0 295.8,198.3 296.0,196.1 296.1,202.0 296.3,194.6 296.4,198.0 296.6,195.5 296.7,195.0 296.9,197.5 297.0,196.2 297.2,198.0 297.3,196.7 297.5,198.7 297.6,205.1 297.8,199.0 297.9,202.6 298.1,200.7 298.2,200.2 298.4,203.5 298.5,200.6 298.7,202.2 298.8,195.2 299.0,195.3 299.1,198.7 299.3,194.0 299.4,196.6 299.6,196.1 299.7,196.9 299.9,192.9 300.0,193.3 300.2,194.7 300.3,194.1 300.5,190.8 300.6,190.8 300.8,196.3 300.9,193.8 301.1,193.3 301.2,195.6 301.4,191.7 301.5,195.8 301.7,194.7 301.8,192.9 302.0,196.2 302.1,196.0 302.3,198.2 302.4,198.2 302.6,187.5 302.7,194.9 302.9,192.2 303.0,197.5 303.2,195.8 303.3,197.9 303.5,191.5 303.6,196.4 303.8,200.9 303.9,198.6 304.1,200.8 304.2,197.7 304.4,201.4 304.5,201.5 304.7,203.0 304.8,203.0 305.0,198.2 305.1,192.1 305.3,200.9 305.4,196.0 305.6,196.2 305.7,199.5 305.9,192.9 306.0,195.4 306.2,194.5 306.3,195.6 306.5,194.9 306.6,197.5 306.8,195.1 306.9,196.5 307.1,197.4 307.2,190.4 307.4,195.2 307.5,198.9 307.7,190.0 307.8,196.4 308.0,196.1 308.1,194.8 308.3,201.5 308.4,199.2 308.6,197.2 308.7,197.3 308.9,202.2 309.0,201.0 309.2,197.9 309.3,199.0 309.5,198.2 309.6,195.6 309.8,199.4 309.9,190.2 310.1,198.3 310.2,194.0 310.4,195.2 310.5,196.2 310.7,196.6 310.8,199.6 311.0,190.9 311.1,191.1 311.3,193.7 311.4,192.4 311.6,196.2 311.7,197.0 311.9,196.9 312.0,199.4 312.2,197.7 312.3,199.8 312.5,199.7 312.6,195.3 312.8,193.1 312.9,193.9 313.1,198.4 313.2,198.4 313.4,195.2 313.5,192.7 313.7,196.3 313.8,195.5 314.0,189.6 314.1,195.6 314.3,193.4 314.4,192.5 314.6,197.8 314.7,198.0 314.9,197.1 315.0,195.6 315.2,196.9 315.3,197.1 315.5,192.9 315.6,196.8 315.8,195.4 315.9,199.2 316.1,197.8 316.2,199.0 316.4,200.1 316.5,197.6 316.7,199.5 316.8,202.4 317.0,198.1 317.1,198.2 317.3,192.4 317.4,199.3 317.6,197.1 317.7,200.3 317.9,193.1 318.0,199.1 318.2,195.7 318.3,196.8 318.5,197.7 318.6,195.5 318.8,190.6 318.9,197.4 319.1,195.8 319.2,196.2 319.4,204.2 319.5,198.5 319.7,199.1 319.8,196.0 320.0,195.3 320.1,198.7 320.3,198.7 320.4,199.8 320.6,199.1 320.7,188.4 320.9,194.4 321.0,200.0 321.2,197.3 321.3,199.8 321.5,197.6 321.6,198.4 321.8,195.8 321.9,191.1 322.1,193.3 322.2,198.8 322.4,201.2 322.5,199.3 322.7,192.4 322.8,198.6 323.0,195.6 323.1,198.7 323.3,194.5 323.4,196.5 323.6,195.4 323.7,196.2 323.9,189.5 324.0,199.9 324.2,195.6 324.3,188.4 324.5,199.9 324.6,196.4 324.8,196.7 324.9,194.7 325.1,196.0 325.2,193.9 325.4,193.6 325.5,193.1 325.7,186.5 325.8,194.6 326.0,198.2 326.1,194.0 326.3,199.8 326.4,194.9 326.6,198.0 326.7,200.5 326.9,201.6 327.0,198.1 327.2,203.2 327.3,199.0 327.5,197.9 327.6,197.5 327.8,194.8 327.9,191.2 328.1,193.0 328.2,196.0 328.4,196.7 328.5,192.7 328.7,201.9 328.8,200.7 329.0,190.4 329.1,199.1 329.3,198.9 329.4,194.0 329.6,199.8 329.7,198.3 329.9,200.9 330.0,197.4 330.2,196.1 330.3,197.4 330.5,197.5 330.6,198.3 330.8,194.1 330.9,197.5 331.1,197.4 331.2,193.8 331.4,189.8 331.5,199.3 331.7,196.2 331.8,195.0 332.0,197.2 332.1,193.0 332.3,196.5 332.4,192.8 332.6,195.4 332.7,196.4 332.9,197.0 333.0,197.3 333.2,198.0 333.3,199.5 333.5,190.6 333.6,190.8 333.8,196.3 333.9,196.8 334.1,189.7 334.2,195.6 334.4,190.5 334.5,192.4 334.7,191.1 334.8,195.1 335.0,198.1 335.1,199.2 335.3,198.2 335.4,200.9 335.6,199.5 335.7,197.3 335.9,193.3 336.0,197.3 336.2,200.4 336.3,198.5 336.5,199.7 336.6,199.5 336.8,199.0 336.9,192.9 337.1,194.5 337.2,203.2 337.4,194.5 337.5,196.4 337.7,197.2 337.8,201.4 338.0,199.0 338.1,196.6 338.3,198.0 338.4,197.4 338.6,199.6 338.7,199.1 338.9,198.9 339.0,196.4 339.2,199.8 339.3,195.4 339.5,197.0 339.6,196.9 339.8,199.8 339.9,199.1 340.1,194.0 340.2,197.7 340.4,196.3 340.5,191.3 340.7,196.1 340.8,191.4 341.0,196.8 341.1,198.5 341.3,197.6 341.4,197.7 341.6,199.7 341.7,197.6 341.9,194.7 342.0,195.8 342.2,197.0 342.3,198.0 342.5,187.0 342.6,196.2 342.8,192.2"/>
<path d="M55.0 66.5V42.0 M59.3 66.5V47.0 M85.6 66.5V31.0 M110.7 66.5V25.0 M131.4 66.5V36.0 M139.4 66.5V14.0 M142.2 66.5V28.0 M160.7 66.5V26.0 M163.3 66.5V27.0 M166.9 66.5V26.0 M172.1 66.5V25.0 M201.7 66.5V36.0 M225.7 66.5V49.3 M228.0 66.5V36.0 M230.7 66.5V49.3 M236.0 66.5V49.3 M248.0 66.5V49.3 M255.9 66.5V47.4 M262.7 66.5V53.8 M267.3 66.5V53.8 M271.2 66.5V50.2 M281.4 66.5V49.3 M295.6 66.5V54.3 M300.2 66.5V54.3 M320.7 66.5V50.9 M326.0 66.5V47.4 M335.1 66.5V53.1" stroke="#2e2e2e" stroke-width="1.45" fill="none"/>
<path d="M62.3 140.6V136.0 M105.3 140.6V117.0 M130.3 140.6V132.0 M140.6 140.6V132.0 M163.4 140.6V97.0 M198.3 140.6V127.5 M225.7 140.6V136.0 M246.3 140.6V136.0 M276.9 140.6V136.0 M321.4 140.6V127.5" stroke="#2e2e2e" stroke-width="1.45" fill="none"/>
<path d="M49.0 213.4V202.0 M63.5 213.4V198.0 M104.7 213.4V190.0 M122.7 213.4V195.0 M130.5 213.4V173.6 M142.7 213.4V178.0 M164.6 213.4V190.0 M194.2 213.4V193.0 M197.1 213.4V195.0 M202.4 213.4V176.0 M204.6 213.4V167.5 M210.9 213.4V204.0 M220.7 213.4V200.0 M228.0 213.4V199.6 M231.4 213.4V199.0 M245.8 213.4V199.0 M262.3 213.4V202.0 M276.9 213.4V199.0 M280.3 213.4V199.0 M286.5 213.4V199.0 M292.9 213.4V199.0 M302.0 213.4V199.0 M310.0 213.4V199.0 M326.0 213.4V199.0" stroke="#2e2e2e" stroke-width="1.45" fill="none"/>
<path d="M46 -1V219.5" stroke="#6e6e6e" stroke-width="2.1" fill="none"/>
<path d="M342.6 -1V219.5" stroke="#6a6a6a" stroke-width="1.8" fill="none"/>
<path d="M45 0.75H344" stroke="#4a4a4a" stroke-width="1.5" fill="none"/>
<path d="M45 218.6H344" stroke="#4a4a4a" stroke-width="1.8" fill="none"/>
<path d="M43.8 219.0H46.0 M41.8 203.4H46.0 M43.8 187.8H46.0 M41.8 172.3H46.0 M43.8 156.7H46.0 M41.8 141.1H46.0 M43.8 125.5H46.0 M41.8 110.0H46.0 M43.8 94.4H46.0 M41.8 78.8H46.0 M43.8 63.2H46.0 M41.8 47.7H46.0 M43.8 32.1H46.0 M41.8 16.5H46.0 M43.8 0.9H46.0 M46.0 218.6V223.8 M70.7 218.6V221.8 M95.4 218.6V223.8 M120.2 218.6V221.8 M144.9 218.6V223.8 M169.6 218.6V221.8 M194.3 218.6V223.8 M219.0 218.6V221.8 M243.7 218.6V223.8 M268.5 218.6V221.8 M293.2 218.6V223.8 M317.9 218.6V221.8 M342.6 218.6V223.8" stroke="#444" stroke-width="1.2" fill="none"/>
<g font-family="Liberation Sans, sans-serif" font-size="14" fill="#111"><text x="38.1" y="207.3" text-anchor="end">0</text><text x="38.1" y="176.2" text-anchor="end">20</text><text x="38.1" y="145.0" text-anchor="end">40</text><text x="38.1" y="113.9" text-anchor="end">60</text><text x="38.1" y="82.7" text-anchor="end">80</text><text x="38.1" y="51.6" text-anchor="end">100</text><text x="38.1" y="20.4" text-anchor="end">120</text><text x="46.0" y="237.0" text-anchor="middle">25</text><text x="95.4" y="237.0" text-anchor="middle">30</text><text x="144.9" y="237.0" text-anchor="middle">35</text><text x="194.3" y="237.0" text-anchor="middle">40</text><text x="243.7" y="237.0" text-anchor="middle">45</text><text x="293.2" y="237.0" text-anchor="middle">50</text><text x="342.6" y="237.0" text-anchor="middle">55</text></g>
<text x="194.4" y="251.6" text-anchor="middle" font-family="Liberation Sans, sans-serif" font-size="13.6" fill="#111">2&#920; (degree)</text>
<text transform="translate(11.3,113.2) rotate(-90)" text-anchor="middle" font-family="Liberation Sans, sans-serif" font-size="14.1" fill="#111">Intensity (a. u.)</text>
<rect x="227.9" y="6.6" width="24.8" height="12" rx="0.8" fill="none" stroke="#ff8a8a" stroke-width="1.05"/>
<path d="M228.3 12.5H252.4" stroke="#3a3a3a" stroke-width="1.1"/>
<text x="255.1" y="16.1" font-family="Liberation Sans, sans-serif" font-size="11.1" fill="#111">Ag<tspan font-size="9.2" dy="4.1">2</tspan><tspan dy="-4.1">S</tspan></text>
<path d="M227.9 83.6H252.1" stroke="#ff4656" stroke-width="1.05"/>
<text x="255.1" y="87.6" font-family="Liberation Sans, sans-serif" font-size="11.1" fill="#111">Ag<tspan font-size="9.2" dy="4.1">2</tspan><tspan dy="-4.1">S</tspan><tspan font-size="9.2" dy="4.1">0.48</tspan><tspan dy="-4.1">Se</tspan><tspan font-size="9.2" dy="4.1">0.52</tspan></text>
<path d="M227.9 167.6H252.1" stroke="#4a4aff" stroke-width="1.05"/>
<text x="255.1" y="171.5" font-family="Liberation Sans, sans-serif" font-size="11.1" fill="#111">Ag<tspan font-size="9.2" dy="4.1">2</tspan><tspan dy="-4.1">Se</tspan></text>
</svg>
</body></html>
